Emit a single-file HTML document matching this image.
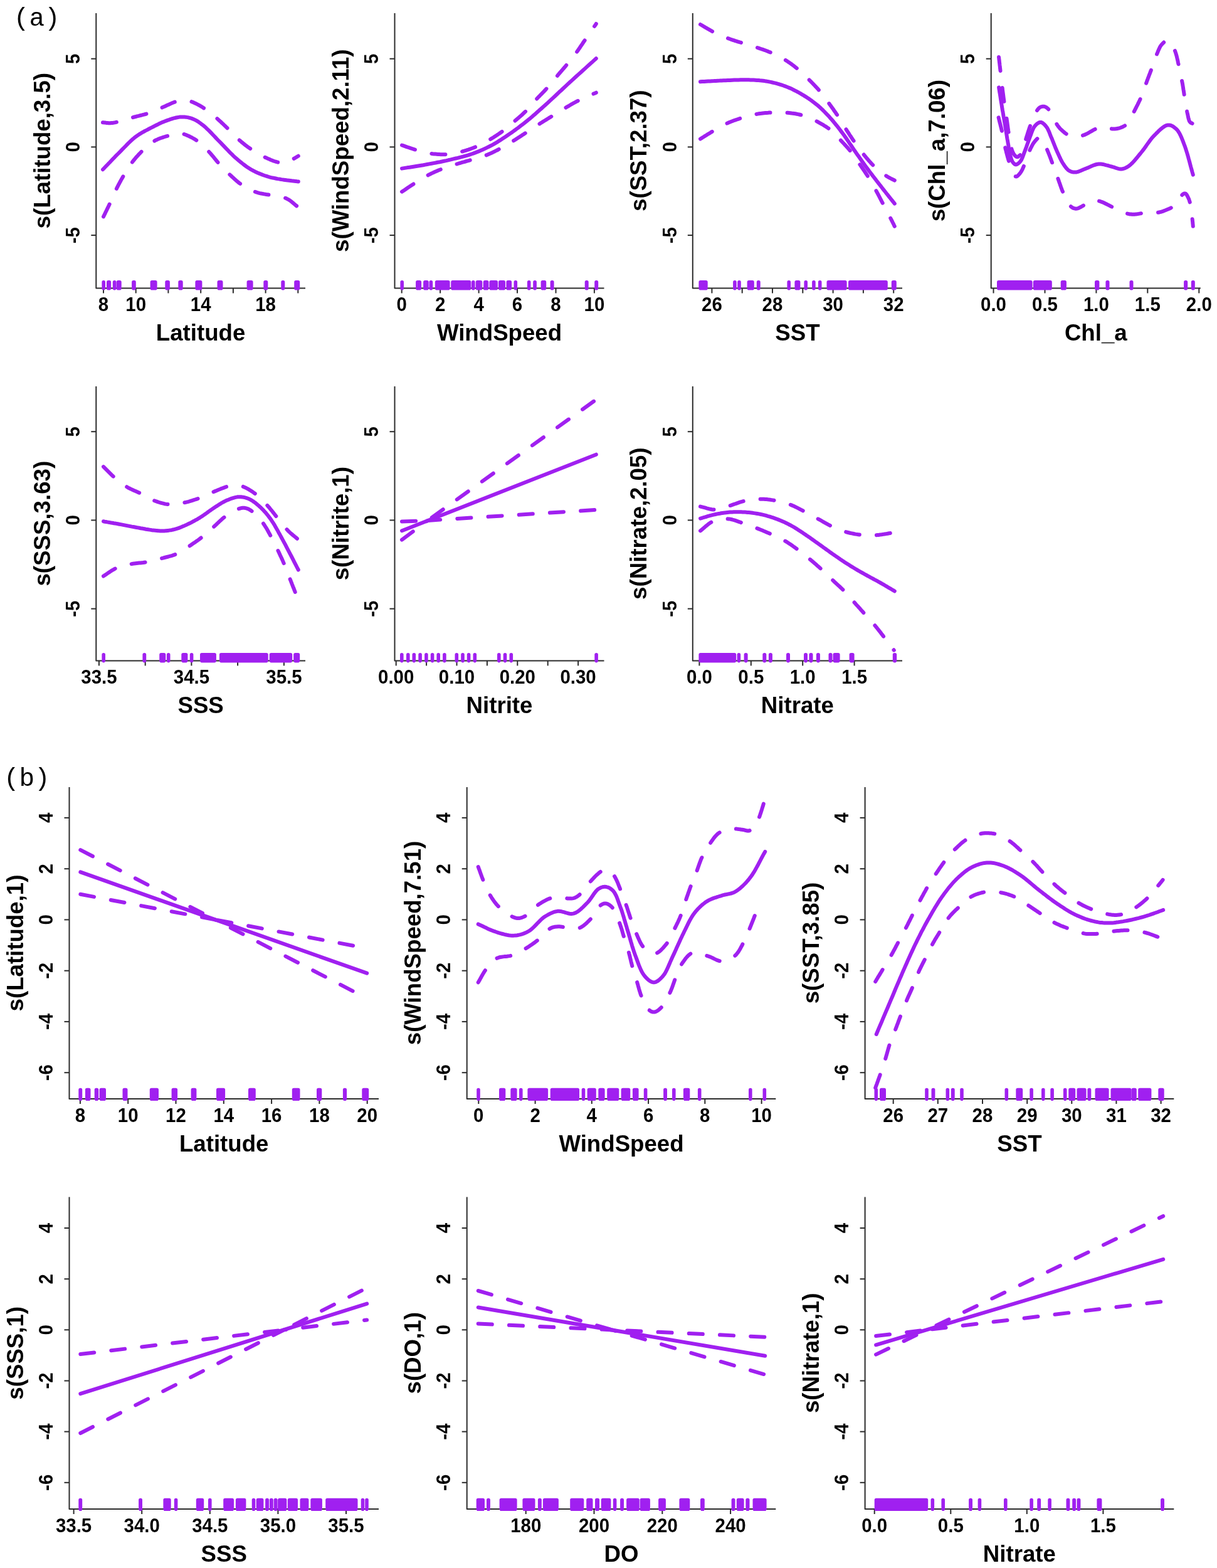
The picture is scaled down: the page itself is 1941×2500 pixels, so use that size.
<!DOCTYPE html>
<html><head><meta charset="utf-8"><title>GAM partial effects</title>
<style>
html,body{margin:0;padding:0;background:#fff;}
svg{display:block;}
.ax{fill:none;stroke:#2b2b2b;stroke-width:2.0;stroke-linecap:butt;stroke-linejoin:round;}
.tk{font-family:"Liberation Sans",sans-serif;font-weight:700;font-size:31.0px;text-anchor:middle;fill:#000;}
.lb{font-family:"Liberation Sans",sans-serif;font-weight:700;font-size:36.3px;text-anchor:middle;fill:#000;}
.pl{font-family:"Liberation Mono",monospace;font-weight:400;font-size:41px;fill:#000;}
.fit{fill:none;stroke:#A020F0;stroke-width:6.0;stroke-linecap:round;stroke-linejoin:round;}
.ci{fill:none;stroke:#A020F0;stroke-width:6.0;stroke-linecap:round;stroke-linejoin:round;stroke-dasharray:22.1 27.2;}
.rg{fill:#A020F0;}
</style></head>
<body>
<svg width="1941" height="2500" viewBox="0 0 1941 2500">
<rect width="1941" height="2500" fill="#fff"/>
<text class="pl" x="21.8" y="40.5">(a)</text>
<text class="pl" x="5.9" y="1252.5">(b)</text>
<path d="M153.3 21.0 V459.5 H487.0" class="ax"/>
<path d="M145.3 375.1H153.3" class="ax"/>
<path d="M145.3 234.4H153.3" class="ax"/>
<path d="M145.3 93.7H153.3" class="ax"/>
<text class="tk" transform="translate(127.0 375.1) rotate(-90) scale(0.950 1)">-5</text>
<text class="tk" transform="translate(127.0 234.4) rotate(-90) scale(0.950 1)">0</text>
<text class="tk" transform="translate(127.0 93.7) rotate(-90) scale(0.950 1)">5</text>
<path d="M165.0 459.5V467.5" class="ax"/>
<path d="M216.7 459.5V467.5" class="ax"/>
<path d="M268.4 459.5V467.5" class="ax"/>
<path d="M320.2 459.5V467.5" class="ax"/>
<path d="M371.9 459.5V467.5" class="ax"/>
<path d="M423.6 459.5V467.5" class="ax"/>
<path d="M475.3 459.5V467.5" class="ax"/>
<text class="tk" transform="translate(165.0 496.3) scale(0.950 1)">8</text>
<text class="tk" transform="translate(216.7 496.3) scale(0.950 1)">10</text>
<text class="tk" transform="translate(320.2 496.3) scale(0.950 1)">14</text>
<text class="tk" transform="translate(423.6 496.3) scale(0.950 1)">18</text>
<text class="lb" transform="translate(320.1 543.1) scale(1.010 1)">Latitude</text>
<text class="lb" transform="translate(79.7 240.2) rotate(-90) scale(1.010 1)">s(Latitude,3.5)</text>
<rect x="162.4" y="447.0" width="5.6" height="15.5" rx="2.8" class="rg"/>
<rect x="170.0" y="447.0" width="7.1" height="15.5" rx="2.8" class="rg"/>
<rect x="179.8" y="447.0" width="5.6" height="15.5" rx="2.8" class="rg"/>
<rect x="185.7" y="447.0" width="8.0" height="15.5" rx="2.8" class="rg"/>
<rect x="210.1" y="447.0" width="6.7" height="15.5" rx="2.8" class="rg"/>
<rect x="239.6" y="447.0" width="11.0" height="15.5" rx="2.8" class="rg"/>
<rect x="263.3" y="447.0" width="7.6" height="15.5" rx="2.8" class="rg"/>
<rect x="284.3" y="447.0" width="7.4" height="15.5" rx="2.8" class="rg"/>
<rect x="311.4" y="447.0" width="11.0" height="15.5" rx="2.8" class="rg"/>
<rect x="346.5" y="447.0" width="9.0" height="15.5" rx="2.8" class="rg"/>
<rect x="393.6" y="447.0" width="10.0" height="15.5" rx="2.8" class="rg"/>
<rect x="420.3" y="447.0" width="7.0" height="15.5" rx="2.8" class="rg"/>
<rect x="448.3" y="447.0" width="6.0" height="15.5" rx="2.8" class="rg"/>
<rect x="469.2" y="447.0" width="9.0" height="15.5" rx="2.8" class="rg"/>
<path d="M164.0 270.3L166.2 268.0L168.3 265.8L170.5 263.5L172.7 261.2L174.9 259.0L177.0 256.7L179.2 254.4L181.4 252.2L183.5 249.9L185.7 247.7L187.9 245.5L190.1 243.3L192.3 241.1L194.4 238.9L196.6 236.7L198.7 234.5L200.9 232.3L203.0 230.1L205.2 227.9L207.4 225.8L209.6 223.8L211.8 221.8L214.0 219.9L216.2 218.2L218.2 216.8L220.1 215.4L222.1 214.1L224.1 212.9L226.0 211.7L228.0 210.6L230.0 209.5L232.0 208.4L234.1 207.4L236.1 206.3L238.1 205.3L240.2 204.2L242.3 203.1L244.5 202.0L246.6 200.9L248.8 199.8L251.0 198.7L253.2 197.6L255.4 196.6L257.6 195.6L259.8 194.6L262.0 193.7L264.2 192.9L266.3 192.1L268.2 191.4L270.1 190.8L271.9 190.1L273.8 189.5L275.6 189.0L277.5 188.4L279.3 188.0L281.2 187.5L283.0 187.2L284.8 186.9L286.5 186.6L288.3 186.5L289.9 186.4L291.4 186.4L293.0 186.5L294.5 186.6L296.0 186.7L297.5 186.9L299.0 187.1L300.5 187.4L302.0 187.8L303.5 188.2L304.9 188.6L306.4 189.1L307.9 189.7L309.5 190.4L311.0 191.1L312.5 191.9L313.9 192.7L315.4 193.6L316.9 194.6L318.3 195.6L319.8 196.7L321.3 197.8L322.9 199.0L324.4 200.2L326.5 201.9L328.6 203.8L330.7 205.8L332.9 207.9L335.1 210.1L337.3 212.4L339.5 214.7L341.7 217.0L343.9 219.4L346.1 221.7L348.3 224.0L350.5 226.2L352.7 228.4L354.8 230.6L357.0 232.9L359.1 235.1L361.3 237.4L363.5 239.6L365.6 241.9L367.8 244.1L370.0 246.2L372.1 248.3L374.3 250.4L376.5 252.3L378.5 254.0L380.5 255.7L382.4 257.3L384.4 258.9L386.4 260.5L388.3 262.0L390.3 263.5L392.3 265.0L394.4 266.4L396.4 267.7L398.5 269.1L400.6 270.3L402.7 271.5L404.8 272.6L406.9 273.7L409.1 274.7L411.3 275.7L413.5 276.6L415.7 277.5L417.9 278.4L420.1 279.2L422.3 280.0L424.5 280.7L426.7 281.4L428.7 282.0L430.7 282.6L432.7 283.1L434.7 283.5L436.7 283.9L438.7 284.3L440.7 284.7L442.7 285.1L444.7 285.4L446.7 285.7L448.7 286.1L450.7 286.4L452.8 286.7L454.8 287.0L456.9 287.3L459.0 287.6L461.1 287.8L463.2 288.0L465.3 288.3L467.4 288.5L469.5 288.7L471.6 288.9L473.7 289.2L475.8 289.4" class="fit"/>
<path d="M164.0 195.2L165.0 195.3L166.0 195.4L167.0 195.5L168.0 195.6L169.0 195.8L170.0 195.9L171.0 196.0L172.0 196.1L173.0 196.2L174.0 196.2L175.1 196.2L176.1 196.2L177.2 196.1L178.3 196.0L179.5 195.9L180.6 195.8L181.7 195.6L182.9 195.4L184.0 195.2L185.2 194.9L186.4 194.7L187.6 194.4L188.8 194.1L190.1 193.8L191.8 193.4L193.5 192.9L195.2 192.4L197.0 191.9L198.8 191.3L200.7 190.7L202.6 190.1L204.4 189.5L206.3 188.9L208.3 188.3L210.2 187.7L212.1 187.1L214.2 186.5L216.4 186.0L218.5 185.4L220.7 184.9L223.0 184.3L225.2 183.8L227.4 183.2L229.7 182.6L231.9 182.0L234.0 181.4L236.1 180.8L238.2 180.1L240.1 179.4L241.9 178.7L243.7 178.0L245.4 177.3L247.1 176.5L248.9 175.8L250.6 175.0L252.3 174.2L254.0 173.4L255.8 172.6L257.5 171.9L259.3 171.1L261.2 170.3L263.2 169.4L265.1 168.5L267.1 167.6L269.2 166.7L271.2 165.8L273.1 164.9L275.1 164.0L277.0 163.3L278.8 162.6L280.6 162.0L282.3 161.5L283.4 161.2L284.5 161.0L285.5 160.8L286.5 160.6L287.5 160.4L288.5 160.3L289.5 160.2L290.4 160.1L291.4 160.1L292.3 160.1L293.3 160.1L294.3 160.1L295.3 160.1L296.3 160.2L297.3 160.3L298.2 160.4L299.2 160.6L300.2 160.8L301.2 161.0L302.2 161.2L303.2 161.5L304.2 161.8L305.3 162.1L306.4 162.5L308.0 163.1L309.8 163.9L311.6 164.7L313.4 165.6L315.3 166.6L317.2 167.6L319.1 168.7L321.1 169.8L323.0 171.0L324.8 172.2L326.6 173.3L328.4 174.5L330.1 175.7L331.8 176.9L333.4 178.1L335.0 179.4L336.6 180.7L338.2 182.0L339.8 183.3L341.3 184.7L342.9 186.0L344.4 187.4L346.0 188.7L347.5 190.1L349.0 191.5L350.6 192.9L352.1 194.3L353.6 195.7L355.1 197.1L356.6 198.5L358.1 200.0L359.6 201.4L361.1 202.9L362.6 204.3L364.0 205.8L365.5 207.2L366.9 208.6L368.4 210.0L369.8 211.5L371.2 212.9L372.5 214.4L373.9 215.8L375.3 217.3L376.7 218.7L378.2 220.1L379.6 221.5L381.1 222.9L382.6 224.2L384.2 225.5L385.8 226.9L387.4 228.2L389.0 229.5L390.7 230.8L392.3 232.1L394.0 233.3L395.7 234.6L397.4 235.8L399.2 237.0L400.9 238.2L402.6 239.3L404.3 240.4L406.0 241.5L407.7 242.6L409.5 243.7L411.2 244.7L412.9 245.7L414.7 246.7L416.5 247.7L418.3 248.6L420.1 249.6L421.9 250.4L423.7 251.3L425.6 252.1L427.5 253.0L429.5 253.8L431.4 254.7L433.4 255.5L435.4 256.3L437.4 257.0L439.4 257.6L441.3 258.2L443.2 258.7L445.0 259.0L446.7 259.3L447.9 259.4L449.1 259.5L450.3 259.5L451.5 259.5L452.6 259.5L453.7 259.4L454.8 259.2L455.9 259.0L456.9 258.8L458.0 258.6L459.0 258.3L460.0 258.0L460.9 257.7L461.8 257.3L462.7 256.8L463.5 256.4L464.4 255.9L465.2 255.3L466.0 254.8L466.8 254.3L467.6 253.7L468.3 253.2L469.1 252.7L469.8 252.3L470.4 252.0L470.9 251.7L471.4 251.3L471.9 251.0L472.4 250.7L472.9 250.5L473.4 250.2L473.9 249.9L474.3 249.6L474.8 249.3L475.3 249.0L475.8 248.7" class="ci"/>
<path d="M165.0 345.5L165.9 343.6L166.9 341.7L167.8 339.7L168.7 337.8L169.7 335.9L170.6 334.0L171.5 332.1L172.5 330.1L173.4 328.2L174.3 326.3L175.2 324.4L176.1 322.5L177.0 320.6L177.8 318.8L178.6 316.9L179.4 315.1L180.2 313.2L181.0 311.4L181.8 309.6L182.7 307.7L183.5 305.9L184.3 304.1L185.2 302.2L186.1 300.4L187.0 298.5L188.0 296.7L188.9 294.8L189.9 293.0L190.9 291.1L191.9 289.3L192.9 287.4L193.9 285.6L195.0 283.8L196.0 282.0L197.0 280.2L198.1 278.4L199.1 276.7L200.2 275.0L201.2 273.2L202.2 271.5L203.3 269.8L204.3 268.2L205.4 266.5L206.5 264.8L207.6 263.2L208.7 261.5L209.9 259.9L211.1 258.3L212.4 256.6L213.7 255.0L215.1 253.3L216.4 251.7L217.8 250.1L219.3 248.5L220.7 246.9L222.2 245.3L223.7 243.8L225.2 242.2L226.7 240.8L228.2 239.3L229.7 237.9L231.2 236.5L232.7 235.1L234.2 233.8L235.8 232.4L237.3 231.1L238.9 229.8L240.5 228.6L242.1 227.4L243.8 226.3L245.5 225.2L247.2 224.2L249.0 223.2L250.9 222.4L252.8 221.5L254.8 220.7L256.9 220.0L258.9 219.3L260.9 218.6L262.9 218.0L264.9 217.4L266.8 216.9L268.6 216.3L270.3 215.8L271.5 215.4L272.7 215.1L273.8 214.7L274.9 214.4L276.0 214.0L277.1 213.7L278.1 213.4L279.2 213.2L280.2 213.0L281.2 212.8L282.3 212.7L283.3 212.6L284.2 212.6L285.1 212.6L286.0 212.6L286.9 212.6L287.8 212.7L288.7 212.8L289.5 213.0L290.4 213.1L291.4 213.4L292.3 213.6L293.3 213.9L294.3 214.2L295.9 214.8L297.6 215.4L299.4 216.2L301.3 217.0L303.2 218.0L305.2 218.9L307.1 220.0L309.1 221.1L311.0 222.2L312.9 223.4L314.7 224.6L316.4 225.8L318.1 227.0L319.7 228.4L321.2 229.7L322.8 231.1L324.3 232.6L325.8 234.1L327.2 235.6L328.7 237.1L330.1 238.7L331.6 240.2L333.0 241.8L334.4 243.3L335.8 244.8L337.2 246.4L338.5 248.0L339.9 249.6L341.2 251.2L342.5 252.8L343.8 254.4L345.1 256.0L346.4 257.6L347.8 259.2L349.1 260.8L350.5 262.3L351.9 263.8L353.2 265.3L354.6 266.7L356.0 268.2L357.4 269.6L358.8 271.0L360.2 272.5L361.7 273.9L363.1 275.3L364.6 276.6L366.0 278.0L367.5 279.4L369.0 280.8L370.5 282.2L372.1 283.6L373.6 285.0L375.2 286.4L376.7 287.8L378.3 289.2L379.9 290.5L381.6 291.8L383.2 293.0L384.9 294.2L386.6 295.4L388.3 296.5L390.1 297.6L391.8 298.6L393.6 299.7L395.4 300.6L397.3 301.6L399.1 302.5L401.0 303.4L402.9 304.2L404.8 305.0L406.7 305.7L408.6 306.4L410.5 307.0L412.5 307.6L414.5 308.1L416.5 308.5L418.5 308.9L420.5 309.3L422.6 309.6L424.6 310.0L426.6 310.3L428.7 310.6L430.7 311.0L432.7 311.4L434.7 311.8L436.8 312.1L438.8 312.4L440.9 312.7L442.9 313.0L445.0 313.3L447.0 313.6L449.0 314.0L451.0 314.5L453.0 315.0L454.9 315.7L456.7 316.4L458.4 317.3L460.1 318.2L461.8 319.3L463.4 320.4L465.0 321.6L466.5 322.9L468.1 324.2L469.6 325.5L471.1 326.8L472.7 328.0L474.2 329.3L475.8 330.5" class="ci"/>
<path d="M629.5 21.0 V459.5 H963.5" class="ax"/>
<path d="M621.5 375.1H629.5" class="ax"/>
<path d="M621.5 234.4H629.5" class="ax"/>
<path d="M621.5 93.7H629.5" class="ax"/>
<text class="tk" transform="translate(603.2 375.1) rotate(-90) scale(0.950 1)">-5</text>
<text class="tk" transform="translate(603.2 234.4) rotate(-90) scale(0.950 1)">0</text>
<text class="tk" transform="translate(603.2 93.7) rotate(-90) scale(0.950 1)">5</text>
<path d="M640.7 459.5V467.5" class="ax"/>
<path d="M702.1 459.5V467.5" class="ax"/>
<path d="M763.6 459.5V467.5" class="ax"/>
<path d="M825.0 459.5V467.5" class="ax"/>
<path d="M886.5 459.5V467.5" class="ax"/>
<path d="M947.9 459.5V467.5" class="ax"/>
<text class="tk" transform="translate(640.7 496.3) scale(0.950 1)">0</text>
<text class="tk" transform="translate(702.1 496.3) scale(0.950 1)">2</text>
<text class="tk" transform="translate(763.6 496.3) scale(0.950 1)">4</text>
<text class="tk" transform="translate(825.0 496.3) scale(0.950 1)">6</text>
<text class="tk" transform="translate(886.5 496.3) scale(0.950 1)">8</text>
<text class="tk" transform="translate(947.9 496.3) scale(0.950 1)">10</text>
<text class="lb" transform="translate(796.5 543.1) scale(1.010 1)">WindSpeed</text>
<text class="lb" transform="translate(555.9 240.2) rotate(-90) scale(1.010 1)">s(WindSpeed,2.11)</text>
<rect x="638.4" y="447.0" width="5.6" height="15.5" rx="2.8" class="rg"/>
<rect x="663.1" y="447.0" width="9.0" height="15.5" rx="2.8" class="rg"/>
<rect x="675.1" y="447.0" width="8.6" height="15.5" rx="2.8" class="rg"/>
<rect x="684.5" y="447.0" width="5.7" height="15.5" rx="2.8" class="rg"/>
<rect x="693.8" y="447.0" width="23.8" height="15.5" rx="2.8" class="rg"/>
<rect x="719.2" y="447.0" width="32.1" height="15.5" rx="2.8" class="rg"/>
<rect x="752.0" y="447.0" width="5.6" height="15.5" rx="2.8" class="rg"/>
<rect x="758.7" y="447.0" width="10.6" height="15.5" rx="2.8" class="rg"/>
<rect x="770.7" y="447.0" width="8.7" height="15.5" rx="2.8" class="rg"/>
<rect x="780.4" y="447.0" width="13.6" height="15.5" rx="2.8" class="rg"/>
<rect x="795.0" y="447.0" width="11.0" height="15.5" rx="2.8" class="rg"/>
<rect x="807.4" y="447.0" width="8.7" height="15.5" rx="2.8" class="rg"/>
<rect x="819.5" y="447.0" width="5.6" height="15.5" rx="2.8" class="rg"/>
<rect x="840.9" y="447.0" width="5.6" height="15.5" rx="2.8" class="rg"/>
<rect x="850.2" y="447.0" width="5.7" height="15.5" rx="2.8" class="rg"/>
<rect x="862.6" y="447.0" width="8.6" height="15.5" rx="2.8" class="rg"/>
<rect x="877.6" y="447.0" width="6.0" height="15.5" rx="2.8" class="rg"/>
<rect x="932.7" y="447.0" width="6.0" height="15.5" rx="2.8" class="rg"/>
<rect x="948.2" y="447.0" width="6.0" height="15.5" rx="2.8" class="rg"/>
<path d="M641.0 268.6L644.1 268.1L647.2 267.6L650.2 267.1L653.3 266.7L656.4 266.2L659.5 265.7L662.5 265.2L665.6 264.7L668.7 264.2L671.8 263.7L675.0 263.2L678.1 262.6L681.4 262.0L684.7 261.4L688.1 260.8L691.5 260.1L694.9 259.5L698.3 258.8L701.7 258.2L705.0 257.5L708.4 256.8L711.7 256.1L715.0 255.3L718.2 254.6L721.2 253.9L724.1 253.2L727.0 252.5L729.9 251.9L732.8 251.1L735.6 250.4L738.5 249.7L741.3 248.9L744.1 248.1L746.8 247.3L749.6 246.4L752.3 245.5L754.9 244.6L757.5 243.6L760.1 242.6L762.7 241.6L765.2 240.6L767.7 239.5L770.2 238.4L772.7 237.3L775.2 236.1L777.6 234.9L780.0 233.7L782.4 232.5L784.7 231.3L786.9 230.1L789.1 228.8L791.2 227.6L793.4 226.3L795.5 224.9L797.6 223.6L799.8 222.2L801.9 220.8L804.0 219.4L806.2 218.0L808.4 216.5L810.9 214.8L813.3 213.1L815.8 211.4L818.4 209.6L820.9 207.8L823.4 205.9L826.0 204.1L828.5 202.2L831.0 200.2L833.5 198.3L836.0 196.4L838.5 194.4L841.0 192.4L843.5 190.3L846.0 188.3L848.5 186.2L850.9 184.1L853.4 181.9L855.8 179.8L858.3 177.6L860.8 175.3L863.4 173.1L866.0 170.8L868.6 168.4L871.8 165.6L875.0 162.6L878.2 159.6L881.5 156.6L884.9 153.5L888.3 150.3L891.6 147.1L895.1 144.0L898.5 140.8L901.9 137.6L905.3 134.4L908.7 131.3L912.2 128.1L915.6 125.0L919.1 121.8L922.6 118.6L926.2 115.4L929.7 112.3L933.2 109.1L936.7 105.9L940.2 102.7L943.8 99.6L947.3 96.4L950.8 93.2" class="fit"/>
<path d="M641.0 231.5L643.0 232.2L645.0 232.9L647.0 233.6L649.0 234.3L651.1 235.0L653.1 235.7L655.1 236.3L657.1 237.0L659.1 237.7L661.1 238.3L663.1 238.9L665.1 239.5L667.0 240.0L668.9 240.6L670.8 241.1L672.7 241.6L674.6 242.1L676.5 242.6L678.4 243.1L680.3 243.5L682.3 243.9L684.2 244.3L686.1 244.6L688.1 244.9L690.1 245.2L692.2 245.4L694.3 245.6L696.4 245.8L698.5 246.0L700.6 246.1L702.7 246.2L704.8 246.3L706.9 246.3L709.0 246.3L711.1 246.2L713.2 246.1L715.2 245.9L717.3 245.7L719.3 245.4L721.3 245.1L723.3 244.8L725.4 244.4L727.4 244.0L729.4 243.5L731.4 243.0L733.4 242.5L735.3 242.0L737.3 241.5L739.3 241.0L741.2 240.4L743.2 239.8L745.1 239.2L747.0 238.6L749.0 237.9L750.9 237.2L752.8 236.5L754.7 235.8L756.6 235.1L758.4 234.3L760.3 233.5L762.1 232.7L763.9 231.9L765.7 231.0L767.5 230.2L769.2 229.3L771.0 228.4L772.7 227.4L774.5 226.5L776.2 225.5L777.9 224.5L779.7 223.5L781.4 222.5L783.2 221.4L785.0 220.3L786.8 219.2L788.5 218.1L790.3 216.9L792.1 215.8L793.9 214.6L795.6 213.4L797.3 212.2L799.0 211.0L800.7 209.7L802.4 208.5L804.0 207.3L805.5 206.1L807.1 204.9L808.6 203.6L810.1 202.4L811.6 201.1L813.1 199.9L814.5 198.6L816.0 197.3L817.5 196.0L819.0 194.7L820.5 193.4L822.1 192.0L823.7 190.7L825.3 189.3L826.9 187.9L828.5 186.5L830.2 185.1L831.8 183.7L833.4 182.2L834.9 180.8L836.5 179.3L838.0 177.9L839.5 176.4L840.9 174.9L842.3 173.5L843.7 172.0L845.0 170.5L846.3 168.9L847.6 167.4L848.9 165.9L850.2 164.4L851.5 162.8L852.8 161.3L854.1 159.8L855.5 158.3L856.9 156.8L858.3 155.3L859.7 153.8L861.2 152.3L862.6 150.8L864.1 149.3L865.5 147.9L867.0 146.4L868.4 144.9L869.8 143.4L871.2 141.8L872.6 140.3L874.0 138.7L875.3 137.2L876.7 135.6L878.0 134.0L879.3 132.4L880.7 130.8L882.0 129.2L883.3 127.6L884.6 126.0L885.9 124.4L887.3 122.8L888.6 121.2L889.9 119.6L891.3 118.0L892.6 116.4L894.0 114.9L895.3 113.3L896.7 111.7L898.0 110.1L899.4 108.6L900.7 107.0L902.1 105.4L903.4 103.8L904.7 102.2L906.0 100.6L907.3 99.1L908.5 97.5L909.8 95.9L911.1 94.4L912.3 92.8L913.6 91.2L914.8 89.6L916.1 88.0L917.3 86.4L918.5 84.8L919.7 83.2L920.9 81.5L922.1 79.9L923.2 78.2L924.4 76.5L925.5 74.8L926.7 73.1L927.8 71.4L929.0 69.7L930.1 68.0L931.3 66.2L932.5 64.5L933.7 62.7L935.1 60.7L936.4 58.7L937.8 56.7L939.3 54.6L940.7 52.6L942.1 50.5L943.6 48.4L945.0 46.3L946.5 44.2L947.9 42.1L949.4 40.1L950.8 38.0" class="ci"/>
<path d="M641.0 305.7L642.8 304.5L644.5 303.4L646.3 302.2L648.0 301.0L649.8 299.8L651.6 298.6L653.3 297.4L655.1 296.3L656.8 295.1L658.6 294.0L660.4 292.8L662.1 291.7L663.8 290.6L665.4 289.6L667.1 288.5L668.7 287.5L670.3 286.5L672.0 285.4L673.6 284.4L675.3 283.4L677.0 282.4L678.6 281.5L680.4 280.5L682.1 279.6L683.9 278.6L685.8 277.7L687.7 276.8L689.6 275.9L691.5 275.0L693.5 274.1L695.4 273.2L697.4 272.4L699.3 271.6L701.3 270.8L703.3 270.0L705.2 269.2L707.1 268.5L709.0 267.8L710.9 267.1L712.8 266.5L714.7 265.8L716.6 265.2L718.5 264.6L720.5 264.0L722.4 263.4L724.3 262.8L726.3 262.2L728.2 261.6L730.2 261.0L732.2 260.4L734.2 259.8L736.2 259.2L738.2 258.6L740.2 258.1L742.3 257.5L744.3 256.9L746.3 256.3L748.3 255.8L750.3 255.2L752.3 254.6L754.2 254.0L756.2 253.5L758.1 252.9L760.1 252.4L762.0 251.8L763.9 251.3L765.9 250.7L767.8 250.1L769.7 249.5L771.6 248.9L773.5 248.2L775.4 247.5L777.3 246.7L779.3 245.9L781.2 245.1L783.2 244.2L785.1 243.3L787.0 242.3L789.0 241.4L790.9 240.4L792.8 239.5L794.7 238.5L796.5 237.5L798.4 236.5L800.2 235.5L802.0 234.5L803.8 233.5L805.6 232.5L807.3 231.5L809.1 230.5L810.8 229.4L812.5 228.4L814.3 227.3L816.0 226.2L817.8 225.2L819.5 224.1L821.3 223.0L823.0 221.9L824.8 220.8L826.5 219.6L828.3 218.5L830.1 217.4L831.8 216.2L833.5 215.1L835.3 213.9L837.0 212.8L838.8 211.6L840.5 210.5L842.2 209.4L843.9 208.3L845.5 207.2L847.2 206.1L848.9 205.0L850.5 203.9L852.2 202.8L853.9 201.7L855.5 200.6L857.2 199.6L858.9 198.5L860.6 197.4L862.3 196.3L864.1 195.2L865.8 194.1L867.6 193.0L869.3 192.0L871.1 190.9L872.8 189.8L874.6 188.7L876.3 187.6L878.1 186.6L879.8 185.5L881.6 184.4L883.4 183.3L885.1 182.2L886.9 181.1L888.6 180.0L890.3 178.9L892.1 177.8L893.9 176.7L895.6 175.7L897.4 174.6L899.1 173.5L900.9 172.4L902.7 171.4L904.5 170.4L906.3 169.3L908.1 168.3L909.9 167.2L911.7 166.2L913.5 165.2L915.3 164.2L917.2 163.2L919.0 162.2L920.9 161.2L922.8 160.3L924.7 159.3L926.8 158.3L928.9 157.3L931.0 156.3L933.2 155.3L935.4 154.4L937.6 153.4L939.8 152.5L942.0 151.5L944.2 150.6L946.4 149.6L948.6 148.7L950.8 147.7" class="ci"/>
<path d="M1104.8 21.0 V459.5 H1439.0" class="ax"/>
<path d="M1096.8 375.1H1104.8" class="ax"/>
<path d="M1096.8 234.4H1104.8" class="ax"/>
<path d="M1096.8 93.7H1104.8" class="ax"/>
<text class="tk" transform="translate(1078.5 375.1) rotate(-90) scale(0.950 1)">-5</text>
<text class="tk" transform="translate(1078.5 234.4) rotate(-90) scale(0.950 1)">0</text>
<text class="tk" transform="translate(1078.5 93.7) rotate(-90) scale(0.950 1)">5</text>
<path d="M1135.4 459.5V467.5" class="ax"/>
<path d="M1183.7 459.5V467.5" class="ax"/>
<path d="M1232.0 459.5V467.5" class="ax"/>
<path d="M1280.3 459.5V467.5" class="ax"/>
<path d="M1328.6 459.5V467.5" class="ax"/>
<path d="M1376.9 459.5V467.5" class="ax"/>
<path d="M1425.2 459.5V467.5" class="ax"/>
<text class="tk" transform="translate(1135.4 496.3) scale(0.950 1)">26</text>
<text class="tk" transform="translate(1232.0 496.3) scale(0.950 1)">28</text>
<text class="tk" transform="translate(1328.6 496.3) scale(0.950 1)">30</text>
<text class="tk" transform="translate(1425.2 496.3) scale(0.950 1)">32</text>
<text class="lb" transform="translate(1271.9 543.1) scale(1.010 1)">SST</text>
<text class="lb" transform="translate(1031.2 240.2) rotate(-90) scale(1.010 1)">s(SST,2.37)</text>
<rect x="1114.4" y="447.0" width="14.3" height="15.5" rx="2.8" class="rg"/>
<rect x="1169.1" y="447.0" width="5.6" height="15.5" rx="2.8" class="rg"/>
<rect x="1176.2" y="447.0" width="5.6" height="15.5" rx="2.8" class="rg"/>
<rect x="1191.6" y="447.0" width="11.2" height="15.5" rx="2.8" class="rg"/>
<rect x="1206.8" y="447.0" width="5.9" height="15.5" rx="2.8" class="rg"/>
<rect x="1255.4" y="447.0" width="5.6" height="15.5" rx="2.8" class="rg"/>
<rect x="1267.4" y="447.0" width="9.0" height="15.5" rx="2.8" class="rg"/>
<rect x="1282.4" y="447.0" width="5.6" height="15.5" rx="2.8" class="rg"/>
<rect x="1295.1" y="447.0" width="5.6" height="15.5" rx="2.8" class="rg"/>
<rect x="1304.9" y="447.0" width="5.6" height="15.5" rx="2.8" class="rg"/>
<rect x="1318.5" y="447.0" width="32.1" height="15.5" rx="2.8" class="rg"/>
<rect x="1353.0" y="447.0" width="62.8" height="15.5" rx="2.8" class="rg"/>
<rect x="1421.8" y="447.0" width="8.0" height="15.5" rx="2.8" class="rg"/>
<path d="M1117.0 130.3L1120.1 130.1L1123.2 130.0L1126.2 129.8L1129.3 129.6L1132.4 129.4L1135.5 129.2L1138.5 129.1L1141.6 128.9L1144.7 128.7L1147.8 128.6L1151.0 128.4L1154.1 128.3L1157.4 128.2L1160.8 128.0L1164.1 127.9L1167.6 127.7L1171.0 127.6L1174.4 127.5L1177.8 127.4L1181.2 127.3L1184.5 127.2L1187.8 127.2L1191.1 127.2L1194.2 127.3L1196.9 127.4L1199.5 127.5L1202.0 127.6L1204.6 127.7L1207.1 127.9L1209.6 128.0L1212.0 128.3L1214.5 128.5L1216.9 128.8L1219.4 129.1L1221.8 129.5L1224.3 129.9L1226.8 130.4L1229.4 130.9L1231.9 131.5L1234.5 132.1L1237.0 132.7L1239.6 133.4L1242.1 134.1L1244.6 134.9L1247.1 135.7L1249.6 136.5L1252.0 137.4L1254.4 138.3L1256.7 139.2L1258.9 140.1L1261.2 141.1L1263.4 142.1L1265.6 143.2L1267.7 144.3L1269.9 145.4L1272.0 146.5L1274.1 147.7L1276.2 148.8L1278.3 150.1L1280.4 151.3L1282.5 152.6L1284.6 153.9L1286.7 155.2L1288.7 156.6L1290.8 158.0L1292.8 159.4L1294.8 160.8L1296.8 162.3L1298.8 163.8L1300.7 165.3L1302.6 166.8L1304.5 168.4L1306.3 169.9L1308.1 171.5L1309.8 173.1L1311.5 174.7L1313.1 176.3L1314.8 178.0L1316.4 179.7L1318.0 181.4L1319.7 183.1L1321.3 184.8L1322.9 186.6L1324.5 188.4L1326.2 190.3L1327.9 192.3L1329.6 194.3L1331.3 196.4L1333.0 198.5L1334.7 200.5L1336.4 202.7L1338.0 204.8L1339.7 207.0L1341.3 209.1L1343.0 211.3L1344.6 213.5L1346.3 215.8L1348.0 218.2L1349.7 220.6L1351.3 223.0L1353.0 225.4L1354.6 227.9L1356.3 230.3L1358.0 232.8L1359.6 235.2L1361.3 237.7L1362.9 240.1L1364.6 242.5L1366.3 244.9L1367.9 247.2L1369.6 249.6L1371.3 252.0L1372.9 254.3L1374.6 256.7L1376.3 259.0L1378.0 261.4L1379.6 263.7L1381.3 266.0L1383.0 268.3L1384.7 270.6L1386.3 272.8L1388.0 275.0L1389.6 277.2L1391.3 279.4L1392.9 281.5L1394.6 283.7L1396.3 285.8L1397.9 288.0L1399.6 290.2L1401.3 292.3L1403.0 294.5L1404.7 296.7L1406.5 299.0L1408.3 301.3L1410.1 303.6L1412.0 306.0L1413.8 308.3L1415.7 310.6L1417.5 313.0L1419.4 315.3L1421.2 317.7L1423.1 320.0L1425.0 322.4L1426.8 324.7" class="fit"/>
<path d="M1117.0 39.0L1118.8 40.0L1120.5 41.0L1122.2 42.1L1124.0 43.1L1125.7 44.2L1127.5 45.2L1129.2 46.2L1131.0 47.2L1132.7 48.2L1134.5 49.2L1136.3 50.2L1138.1 51.1L1140.0 52.0L1141.8 52.9L1143.7 53.8L1145.6 54.7L1147.5 55.5L1149.5 56.4L1151.4 57.2L1153.3 58.0L1155.3 58.8L1157.2 59.6L1159.2 60.4L1161.1 61.1L1163.0 61.8L1164.9 62.5L1166.8 63.2L1168.7 63.8L1170.7 64.4L1172.6 65.1L1174.5 65.7L1176.4 66.3L1178.4 66.9L1180.3 67.5L1182.3 68.1L1184.2 68.7L1186.2 69.3L1188.2 69.9L1190.2 70.5L1192.2 71.2L1194.2 71.8L1196.2 72.4L1198.3 73.0L1200.3 73.6L1202.3 74.2L1204.3 74.8L1206.2 75.4L1208.2 76.1L1210.1 76.7L1211.9 77.4L1213.8 78.0L1215.7 78.6L1217.5 79.2L1219.3 79.9L1221.2 80.5L1223.0 81.2L1224.8 81.9L1226.6 82.7L1228.5 83.4L1230.3 84.2L1232.2 85.1L1234.2 86.0L1236.2 86.9L1238.1 87.8L1240.1 88.8L1242.1 89.8L1244.0 90.8L1245.9 91.9L1247.9 92.9L1249.7 94.0L1251.6 95.1L1253.4 96.2L1255.1 97.3L1256.7 98.4L1258.4 99.5L1260.0 100.6L1261.6 101.7L1263.1 102.9L1264.7 104.0L1266.2 105.2L1267.8 106.4L1269.3 107.7L1270.9 108.9L1272.4 110.2L1274.0 111.6L1275.7 113.0L1277.3 114.5L1278.9 116.0L1280.5 117.5L1282.1 119.0L1283.7 120.6L1285.3 122.1L1286.9 123.7L1288.5 125.2L1290.0 126.8L1291.5 128.3L1292.9 129.7L1294.3 131.1L1295.7 132.5L1297.0 133.9L1298.4 135.3L1299.7 136.7L1301.0 138.1L1302.3 139.5L1303.6 140.9L1304.9 142.3L1306.2 143.8L1307.5 145.3L1308.8 146.9L1310.1 148.5L1311.4 150.1L1312.6 151.8L1313.9 153.4L1315.1 155.1L1316.4 156.8L1317.6 158.5L1318.8 160.2L1320.1 161.9L1321.3 163.6L1322.5 165.3L1323.7 167.0L1324.9 168.6L1326.1 170.3L1327.3 171.9L1328.5 173.6L1329.7 175.3L1330.8 177.0L1332.0 178.6L1333.2 180.3L1334.3 182.0L1335.5 183.7L1336.6 185.4L1337.7 187.1L1338.8 188.9L1339.9 190.6L1341.0 192.3L1342.1 194.1L1343.1 195.9L1344.2 197.6L1345.2 199.4L1346.3 201.1L1347.4 202.9L1348.5 204.7L1349.6 206.4L1350.7 208.2L1351.9 209.9L1353.0 211.7L1354.2 213.5L1355.3 215.3L1356.5 217.1L1357.7 218.8L1358.9 220.6L1360.0 222.3L1361.2 224.1L1362.4 225.8L1363.6 227.5L1364.7 229.1L1365.9 230.8L1367.0 232.4L1368.2 234.0L1369.3 235.6L1370.5 237.2L1371.7 238.7L1372.9 240.3L1374.0 241.9L1375.2 243.4L1376.5 245.0L1377.7 246.5L1379.0 248.1L1380.2 249.6L1381.5 251.2L1382.8 252.7L1384.1 254.2L1385.4 255.8L1386.7 257.3L1388.1 258.8L1389.4 260.3L1390.8 261.7L1392.2 263.2L1393.7 264.6L1395.3 266.1L1396.9 267.5L1398.5 269.0L1400.2 270.4L1401.9 271.8L1403.7 273.3L1405.4 274.6L1407.1 275.9L1408.8 277.2L1410.5 278.4L1412.1 279.5L1413.7 280.6L1414.9 281.3L1416.0 282.0L1417.1 282.7L1418.2 283.3L1419.3 283.8L1420.4 284.4L1421.4 284.9L1422.5 285.4L1423.6 286.0L1424.6 286.5L1425.7 287.0L1426.8 287.6" class="ci"/>
<path d="M1117.0 221.5L1118.8 220.4L1120.5 219.3L1122.3 218.2L1124.0 217.1L1125.8 216.0L1127.5 214.9L1129.3 213.8L1131.0 212.8L1132.8 211.7L1134.5 210.6L1136.3 209.5L1138.1 208.5L1139.9 207.4L1141.7 206.4L1143.5 205.3L1145.3 204.3L1147.1 203.2L1149.0 202.2L1150.8 201.1L1152.6 200.1L1154.5 199.1L1156.3 198.2L1158.2 197.3L1160.1 196.4L1162.0 195.6L1163.9 194.8L1165.8 194.0L1167.7 193.3L1169.6 192.5L1171.5 191.8L1173.5 191.2L1175.4 190.5L1177.4 189.9L1179.3 189.2L1181.3 188.6L1183.2 188.0L1185.1 187.4L1187.0 186.8L1188.9 186.3L1190.8 185.7L1192.7 185.2L1194.6 184.6L1196.5 184.1L1198.4 183.7L1200.3 183.2L1202.3 182.8L1204.2 182.4L1206.2 182.0L1208.2 181.6L1210.3 181.3L1212.4 181.0L1214.5 180.8L1216.6 180.5L1218.7 180.3L1220.8 180.1L1222.9 179.9L1225.0 179.8L1227.1 179.6L1229.2 179.5L1231.3 179.4L1233.4 179.3L1235.5 179.2L1237.6 179.2L1239.7 179.2L1241.8 179.2L1243.9 179.2L1246.0 179.2L1248.1 179.3L1250.2 179.4L1252.3 179.5L1254.3 179.6L1256.4 179.8L1258.4 180.0L1260.5 180.2L1262.5 180.5L1264.5 180.7L1266.5 181.0L1268.6 181.3L1270.6 181.7L1272.6 182.1L1274.5 182.5L1276.5 183.0L1278.5 183.5L1280.4 184.0L1282.3 184.6L1284.2 185.2L1286.1 185.9L1287.9 186.6L1289.8 187.4L1291.6 188.2L1293.5 189.0L1295.3 189.8L1297.1 190.7L1298.9 191.6L1300.7 192.5L1302.5 193.4L1304.3 194.3L1306.1 195.3L1307.9 196.3L1309.7 197.3L1311.5 198.3L1313.3 199.4L1315.0 200.5L1316.8 201.6L1318.5 202.7L1320.2 203.9L1321.9 205.1L1323.5 206.4L1325.1 207.7L1326.7 209.1L1328.3 210.6L1329.8 212.1L1331.4 213.6L1332.9 215.1L1334.3 216.7L1335.8 218.3L1337.3 219.8L1338.7 221.4L1340.2 223.0L1341.6 224.5L1343.0 226.0L1344.4 227.5L1345.8 228.9L1347.1 230.4L1348.5 231.9L1349.8 233.4L1351.2 234.8L1352.5 236.3L1353.8 237.9L1355.1 239.4L1356.3 240.9L1357.6 242.5L1358.8 244.1L1360.1 245.7L1361.3 247.4L1362.4 249.0L1363.6 250.7L1364.7 252.4L1365.9 254.1L1367.0 255.8L1368.2 257.5L1369.3 259.2L1370.4 260.9L1371.6 262.6L1372.8 264.3L1374.0 266.1L1375.2 267.8L1376.4 269.5L1377.6 271.3L1378.8 273.0L1380.0 274.8L1381.1 276.5L1382.3 278.3L1383.5 280.1L1384.6 281.8L1385.7 283.6L1386.8 285.3L1387.8 287.1L1388.8 288.8L1389.9 290.6L1390.9 292.3L1391.9 294.1L1392.9 295.9L1393.8 297.6L1394.8 299.4L1395.8 301.2L1396.7 302.9L1397.7 304.7L1398.6 306.4L1399.6 308.2L1400.5 309.9L1401.4 311.7L1402.3 313.4L1403.2 315.1L1404.1 316.9L1405.0 318.6L1405.9 320.4L1406.8 322.1L1407.8 323.9L1408.7 325.7L1409.7 327.6L1410.7 329.6L1411.8 331.6L1412.9 333.6L1413.9 335.6L1415.0 337.6L1416.0 339.6L1417.1 341.6L1418.1 343.5L1419.0 345.4L1419.9 347.1L1420.8 348.8L1421.4 349.9L1421.9 351.0L1422.5 352.1L1423.0 353.1L1423.5 354.1L1423.9 355.0L1424.4 356.0L1424.9 356.9L1425.4 357.9L1425.8 358.8L1426.3 359.8L1426.8 360.8" class="ci"/>
<path d="M1580.7 21.0 V459.5 H1914.8" class="ax"/>
<path d="M1572.7 375.1H1580.7" class="ax"/>
<path d="M1572.7 234.4H1580.7" class="ax"/>
<path d="M1572.7 93.7H1580.7" class="ax"/>
<text class="tk" transform="translate(1554.4 375.1) rotate(-90) scale(0.950 1)">-5</text>
<text class="tk" transform="translate(1554.4 234.4) rotate(-90) scale(0.950 1)">0</text>
<text class="tk" transform="translate(1554.4 93.7) rotate(-90) scale(0.950 1)">5</text>
<path d="M1584.5 459.5V467.5" class="ax"/>
<path d="M1666.5 459.5V467.5" class="ax"/>
<path d="M1748.4 459.5V467.5" class="ax"/>
<path d="M1830.3 459.5V467.5" class="ax"/>
<path d="M1912.3 459.5V467.5" class="ax"/>
<text class="tk" transform="translate(1584.5 496.3) scale(0.950 1)">0.0</text>
<text class="tk" transform="translate(1666.5 496.3) scale(0.950 1)">0.5</text>
<text class="tk" transform="translate(1748.4 496.3) scale(0.950 1)">1.0</text>
<text class="tk" transform="translate(1830.3 496.3) scale(0.950 1)">1.5</text>
<text class="tk" transform="translate(1912.3 496.3) scale(0.950 1)">2.0</text>
<text class="lb" transform="translate(1747.8 543.1) scale(1.010 1)">Chl_a</text>
<text class="lb" transform="translate(1507.1 240.2) rotate(-90) scale(1.010 1)">s(Chl_a,7.06)</text>
<rect x="1590.0" y="447.0" width="56.6" height="15.5" rx="2.8" class="rg"/>
<rect x="1647.8" y="447.0" width="30.0" height="15.5" rx="2.8" class="rg"/>
<rect x="1691.7" y="447.0" width="9.2" height="15.5" rx="2.8" class="rg"/>
<rect x="1746.0" y="447.0" width="7.4" height="15.5" rx="2.8" class="rg"/>
<rect x="1763.4" y="447.0" width="6.1" height="15.5" rx="2.8" class="rg"/>
<rect x="1801.5" y="447.0" width="6.0" height="15.5" rx="2.8" class="rg"/>
<rect x="1888.1" y="447.0" width="6.1" height="15.5" rx="2.8" class="rg"/>
<rect x="1899.8" y="447.0" width="6.0" height="15.5" rx="2.8" class="rg"/>
<path d="M1593.1 139.4L1593.5 142.0L1593.9 144.6L1594.3 147.2L1594.8 149.9L1595.2 152.5L1595.6 155.1L1596.0 157.7L1596.4 160.3L1596.8 162.9L1597.3 165.5L1597.7 168.1L1598.1 170.7L1598.5 173.2L1598.9 175.8L1599.4 178.3L1599.8 180.8L1600.2 183.3L1600.6 185.8L1601.1 188.3L1601.5 190.9L1601.9 193.4L1602.4 195.9L1602.8 198.4L1603.2 200.9L1603.6 203.4L1604.0 206.0L1604.5 208.6L1604.9 211.2L1605.3 213.8L1605.7 216.4L1606.1 219.0L1606.5 221.5L1607.0 224.0L1607.4 226.4L1607.8 228.8L1608.2 231.1L1608.5 233.0L1608.8 234.8L1609.2 236.7L1609.5 238.5L1609.8 240.3L1610.1 242.0L1610.4 243.8L1610.7 245.4L1611.1 247.0L1611.4 248.5L1611.8 250.0L1612.2 251.3L1612.5 252.1L1612.8 253.0L1613.0 253.8L1613.3 254.5L1613.6 255.3L1613.9 256.0L1614.2 256.6L1614.5 257.3L1614.9 257.9L1615.2 258.5L1615.6 259.0L1616.0 259.5L1616.3 259.9L1616.6 260.2L1617.0 260.6L1617.3 260.9L1617.7 261.2L1618.0 261.5L1618.4 261.8L1618.7 262.0L1619.1 262.2L1619.5 262.3L1619.9 262.4L1620.3 262.4L1620.8 262.3L1621.4 262.2L1622.0 262.0L1622.6 261.6L1623.2 261.2L1623.9 260.8L1624.5 260.3L1625.1 259.8L1625.7 259.2L1626.3 258.6L1626.9 257.9L1627.4 257.3L1628.1 256.3L1628.8 255.3L1629.4 254.1L1630.0 252.8L1630.6 251.5L1631.1 250.1L1631.7 248.6L1632.2 247.2L1632.7 245.7L1633.3 244.2L1633.8 242.7L1634.4 241.2L1635.1 239.5L1635.7 237.7L1636.4 235.9L1637.1 234.0L1637.7 232.1L1638.4 230.2L1639.1 228.3L1639.8 226.4L1640.4 224.5L1641.1 222.6L1641.8 220.8L1642.5 219.0L1643.1 217.4L1643.7 215.7L1644.3 214.1L1644.9 212.4L1645.5 210.7L1646.2 209.1L1646.8 207.5L1647.5 206.0L1648.1 204.6L1648.9 203.2L1649.7 202.0L1650.5 200.9L1651.2 200.1L1651.9 199.4L1652.6 198.7L1653.3 198.0L1654.1 197.3L1654.9 196.7L1655.7 196.2L1656.5 195.7L1657.3 195.4L1658.1 195.1L1658.8 194.9L1659.6 194.9L1660.4 195.0L1661.2 195.2L1662.0 195.6L1662.7 196.0L1663.5 196.6L1664.3 197.2L1665.1 197.9L1665.9 198.7L1666.6 199.4L1667.3 200.3L1668.0 201.1L1668.7 201.9L1669.5 203.0L1670.3 204.2L1671.0 205.5L1671.7 206.8L1672.3 208.3L1673.0 209.7L1673.6 211.2L1674.2 212.8L1674.8 214.3L1675.4 215.9L1676.0 217.5L1676.7 219.0L1677.5 220.7L1678.2 222.5L1678.9 224.4L1679.7 226.2L1680.4 228.1L1681.2 230.0L1681.9 231.9L1682.7 233.8L1683.4 235.7L1684.2 237.5L1685.0 239.4L1685.8 241.2L1686.6 243.0L1687.4 244.7L1688.2 246.5L1689.0 248.3L1689.8 250.1L1690.7 251.9L1691.5 253.6L1692.4 255.3L1693.2 256.9L1694.1 258.5L1695.0 260.0L1695.9 261.4L1696.6 262.5L1697.3 263.5L1698.0 264.6L1698.8 265.6L1699.5 266.6L1700.2 267.5L1701.0 268.4L1701.7 269.2L1702.5 270.0L1703.3 270.8L1704.1 271.4L1705.0 272.0L1705.8 272.5L1706.6 272.9L1707.4 273.2L1708.2 273.6L1709.0 273.8L1709.9 274.1L1710.7 274.3L1711.6 274.4L1712.5 274.5L1713.4 274.6L1714.4 274.6L1715.3 274.6L1716.6 274.5L1717.9 274.2L1719.3 273.8L1720.6 273.4L1722.1 272.8L1723.5 272.2L1725.0 271.6L1726.4 271.0L1727.9 270.3L1729.4 269.7L1730.9 269.1L1732.4 268.5L1734.0 267.9L1735.6 267.2L1737.3 266.5L1738.9 265.8L1740.6 265.0L1742.3 264.3L1744.0 263.6L1745.6 263.0L1747.3 262.5L1749.0 262.0L1750.7 261.7L1752.4 261.5L1754.1 261.5L1755.8 261.5L1757.5 261.7L1759.2 262.0L1760.9 262.4L1762.6 262.8L1764.3 263.3L1766.0 263.7L1767.6 264.2L1769.3 264.7L1770.9 265.1L1772.5 265.5L1773.9 265.9L1775.3 266.3L1776.7 266.7L1778.1 267.2L1779.4 267.7L1780.8 268.1L1782.1 268.5L1783.4 268.9L1784.7 269.2L1786.0 269.4L1787.3 269.5L1788.5 269.5L1789.6 269.4L1790.6 269.2L1791.6 269.0L1792.6 268.7L1793.6 268.4L1794.6 268.0L1795.5 267.5L1796.5 267.0L1797.5 266.5L1798.5 265.9L1799.5 265.2L1800.5 264.5L1802.1 263.3L1803.7 261.9L1805.4 260.3L1807.1 258.6L1808.8 256.7L1810.5 254.8L1812.2 252.7L1813.9 250.7L1815.6 248.6L1817.3 246.5L1819.0 244.5L1820.6 242.5L1822.3 240.4L1824.0 238.2L1825.6 236.0L1827.2 233.7L1828.8 231.4L1830.4 229.1L1832.0 226.9L1833.7 224.6L1835.3 222.4L1837.0 220.3L1838.8 218.3L1840.6 216.4L1842.3 214.7L1844.1 212.8L1846.0 211.0L1847.8 209.1L1849.8 207.3L1851.7 205.6L1853.6 204.0L1855.5 202.6L1857.4 201.4L1859.2 200.4L1861.0 199.7L1862.7 199.4L1864.0 199.4L1865.2 199.5L1866.5 199.7L1867.7 200.1L1868.9 200.6L1870.1 201.2L1871.3 201.9L1872.4 202.7L1873.5 203.6L1874.6 204.5L1875.7 205.4L1876.7 206.4L1878.0 207.8L1879.1 209.3L1880.2 211.0L1881.3 212.8L1882.3 214.8L1883.2 216.8L1884.2 218.9L1885.1 221.1L1886.0 223.4L1886.9 225.7L1887.8 228.1L1888.7 230.5L1890.0 233.9L1891.2 237.5L1892.4 241.3L1893.6 245.2L1894.8 249.3L1895.9 253.5L1897.1 257.7L1898.2 261.9L1899.3 266.2L1900.5 270.4L1901.6 274.5L1902.8 278.6" class="fit"/>
<path d="M1593.0 91.0L1593.3 93.2L1593.5 95.4L1593.8 97.6L1594.0 99.7L1594.3 101.9L1594.5 104.1L1594.8 106.3L1595.0 108.5L1595.3 110.7L1595.5 112.8L1595.8 114.9L1596.0 117.0L1596.2 118.9L1596.4 120.7L1596.6 122.6L1596.8 124.4L1597.0 126.2L1597.2 128.0L1597.4 129.8L1597.6 131.6L1597.8 133.4L1598.1 135.2L1598.3 137.1L1598.5 139.0L1598.8 141.2L1599.0 143.4L1599.3 145.6L1599.6 147.9L1599.9 150.2L1600.2 152.5L1600.5 154.8L1600.8 157.1L1601.1 159.3L1601.4 161.6L1601.7 163.8L1602.0 166.0L1602.3 168.0L1602.6 169.9L1602.9 171.8L1603.1 173.8L1603.4 175.6L1603.7 177.5L1604.0 179.4L1604.3 181.3L1604.6 183.2L1604.9 185.1L1605.2 187.0L1605.5 189.0L1605.8 191.1L1606.1 193.3L1606.4 195.5L1606.7 197.7L1607.0 199.9L1607.3 202.1L1607.6 204.3L1607.9 206.5L1608.2 208.7L1608.6 210.8L1608.9 212.9L1609.2 215.0L1609.5 216.9L1609.8 218.7L1610.1 220.6L1610.3 222.5L1610.6 224.3L1610.9 226.1L1611.2 227.9L1611.5 229.7L1611.8 231.3L1612.2 233.0L1612.6 234.5L1613.0 236.0L1613.3 237.0L1613.6 238.1L1614.0 239.1L1614.3 240.0L1614.7 241.0L1615.0 241.9L1615.4 242.8L1615.8 243.6L1616.2 244.4L1616.6 245.2L1617.0 245.9L1617.5 246.5L1617.9 247.0L1618.2 247.4L1618.6 247.8L1619.0 248.3L1619.4 248.7L1619.8 249.0L1620.3 249.4L1620.7 249.7L1621.1 249.9L1621.5 250.1L1621.9 250.2L1622.3 250.3L1622.6 250.3L1622.9 250.2L1623.3 250.1L1623.6 249.9L1623.9 249.8L1624.2 249.5L1624.5 249.3L1624.8 249.0L1625.1 248.8L1625.4 248.5L1625.7 248.2L1626.0 248.0L1626.3 247.7L1626.6 247.5L1626.9 247.2L1627.2 247.0L1627.5 246.7L1627.7 246.5L1628.0 246.2L1628.3 245.8L1628.6 245.5L1628.8 245.1L1629.1 244.7L1629.4 244.2L1630.0 243.0L1630.6 241.5L1631.2 239.9L1631.7 238.0L1632.3 236.0L1632.9 233.9L1633.4 231.8L1634.0 229.6L1634.6 227.4L1635.2 225.2L1635.8 223.1L1636.4 221.1L1637.0 219.1L1637.7 217.1L1638.3 215.0L1638.9 213.0L1639.6 211.0L1640.2 208.9L1640.9 206.9L1641.6 204.8L1642.3 202.8L1643.0 200.8L1643.7 198.9L1644.5 196.9L1645.3 195.0L1646.1 193.0L1646.9 191.0L1647.7 188.9L1648.6 186.9L1649.4 184.9L1650.3 183.0L1651.2 181.1L1652.0 179.4L1652.9 177.8L1653.8 176.4L1654.6 175.2L1655.0 174.6L1655.5 174.1L1655.9 173.6L1656.3 173.1L1656.8 172.7L1657.2 172.3L1657.6 171.9L1658.1 171.5L1658.5 171.2L1659.0 171.0L1659.5 170.7L1660.0 170.5L1660.5 170.3L1661.0 170.1L1661.6 170.0L1662.1 169.9L1662.7 169.8L1663.3 169.8L1663.8 169.7L1664.4 169.7L1665.0 169.8L1665.6 169.9L1666.1 170.0L1666.7 170.2L1667.5 170.5L1668.2 170.9L1669.0 171.4L1669.7 171.9L1670.5 172.6L1671.3 173.2L1672.0 174.0L1672.8 174.7L1673.5 175.6L1674.3 176.4L1675.0 177.3L1675.7 178.2L1676.7 179.6L1677.6 181.2L1678.5 182.9L1679.4 184.8L1680.2 186.7L1681.1 188.7L1681.9 190.6L1682.8 192.6L1683.6 194.5L1684.5 196.3L1685.4 197.9L1686.3 199.4L1687.0 200.4L1687.7 201.3L1688.4 202.2L1689.1 203.1L1689.8 203.9L1690.5 204.7L1691.2 205.5L1692.0 206.2L1692.7 206.9L1693.5 207.6L1694.2 208.3L1695.0 209.0L1695.7 209.6L1696.5 210.3L1697.2 210.9L1697.9 211.5L1698.7 212.1L1699.4 212.6L1700.2 213.2L1701.0 213.7L1701.8 214.2L1702.6 214.6L1703.4 215.0L1704.3 215.4L1705.2 215.7L1706.1 216.1L1707.1 216.3L1708.0 216.6L1709.0 216.8L1710.0 217.0L1711.0 217.1L1712.0 217.3L1713.0 217.4L1714.0 217.4L1715.0 217.5L1716.0 217.5L1717.0 217.5L1718.0 217.5L1719.0 217.4L1720.0 217.3L1721.0 217.2L1722.0 217.0L1723.0 216.8L1724.0 216.6L1725.1 216.4L1726.2 216.1L1727.3 215.8L1728.4 215.4L1730.1 214.8L1731.8 214.0L1733.7 213.1L1735.6 212.1L1737.5 211.0L1739.4 209.9L1741.4 208.8L1743.3 207.7L1745.2 206.7L1747.0 205.8L1748.8 205.0L1750.4 204.4L1751.5 204.1L1752.5 203.8L1753.5 203.5L1754.5 203.2L1755.5 203.0L1756.4 202.9L1757.3 202.7L1758.3 202.6L1759.2 202.5L1760.1 202.5L1761.0 202.5L1762.0 202.5L1763.0 202.6L1763.9 202.8L1764.9 203.0L1765.8 203.3L1766.8 203.6L1767.7 203.9L1768.7 204.2L1769.6 204.6L1770.6 204.9L1771.5 205.1L1772.5 205.3L1773.5 205.4L1774.5 205.5L1775.6 205.5L1776.6 205.5L1777.7 205.4L1778.7 205.4L1779.8 205.3L1780.8 205.2L1781.9 205.0L1782.9 204.8L1784.0 204.6L1785.0 204.3L1786.0 204.0L1787.0 203.7L1788.0 203.3L1789.0 202.9L1790.0 202.5L1791.0 202.0L1792.0 201.5L1792.9 201.0L1793.9 200.4L1794.8 199.7L1795.7 199.0L1796.6 198.2L1797.5 197.4L1798.6 196.1L1799.8 194.7L1800.8 193.1L1801.8 191.5L1802.8 189.7L1803.8 187.8L1804.8 185.9L1805.7 183.9L1806.7 182.0L1807.6 180.1L1808.6 178.1L1809.5 176.3L1810.5 174.4L1811.5 172.5L1812.4 170.6L1813.4 168.7L1814.4 166.8L1815.3 164.9L1816.2 163.0L1817.2 161.0L1818.1 159.1L1818.9 157.2L1819.8 155.2L1820.6 153.3L1821.4 151.5L1822.1 149.6L1822.8 147.8L1823.4 146.0L1824.1 144.1L1824.7 142.3L1825.4 140.5L1826.0 138.6L1826.6 136.8L1827.3 134.9L1827.9 133.1L1828.6 131.2L1829.3 129.2L1830.1 127.2L1830.8 125.2L1831.6 123.2L1832.3 121.2L1833.1 119.2L1833.9 117.2L1834.6 115.2L1835.4 113.2L1836.1 111.2L1836.9 109.2L1837.6 107.2L1838.3 105.3L1839.0 103.4L1839.6 101.5L1840.3 99.5L1841.0 97.6L1841.6 95.7L1842.3 93.8L1842.9 92.0L1843.6 90.2L1844.3 88.4L1844.9 86.7L1845.6 85.1L1846.1 83.9L1846.6 82.6L1847.1 81.4L1847.6 80.2L1848.1 79.1L1848.6 78.0L1849.1 76.9L1849.6 75.8L1850.1 74.8L1850.7 73.8L1851.3 72.9L1852.0 72.0L1852.6 71.2L1853.3 70.5L1854.0 69.7L1854.7 68.9L1855.5 68.2L1856.2 67.5L1857.0 66.9L1857.8 66.4L1858.5 65.9L1859.3 65.5L1860.0 65.2L1860.7 65.1L1861.2 65.1L1861.8 65.1L1862.3 65.2L1862.9 65.3L1863.4 65.5L1863.9 65.8L1864.5 66.0L1865.0 66.4L1865.5 66.7L1866.0 67.1L1866.5 67.6L1867.0 68.0L1867.7 68.8L1868.5 69.7L1869.2 70.8L1869.9 71.9L1870.5 73.1L1871.2 74.5L1871.8 75.8L1872.4 77.2L1873.0 78.7L1873.6 80.2L1874.2 81.6L1874.7 83.1L1875.3 84.9L1875.9 86.9L1876.5 88.9L1877.0 91.0L1877.5 93.1L1878.0 95.2L1878.5 97.4L1878.9 99.6L1879.4 101.8L1879.8 104.0L1880.2 106.1L1880.7 108.2L1881.1 110.2L1881.6 112.2L1882.0 114.2L1882.5 116.2L1882.9 118.2L1883.3 120.2L1883.7 122.2L1884.1 124.2L1884.5 126.2L1884.9 128.2L1885.3 130.2L1885.7 132.2L1886.1 134.3L1886.4 136.4L1886.8 138.5L1887.1 140.6L1887.4 142.7L1887.8 144.8L1888.1 146.9L1888.4 149.0L1888.7 151.1L1889.0 153.2L1889.4 155.2L1889.7 157.3L1890.0 159.3L1890.3 161.3L1890.7 163.3L1891.0 165.3L1891.3 167.3L1891.6 169.2L1891.9 171.2L1892.3 173.1L1892.6 175.0L1893.0 176.8L1893.3 178.6L1893.7 180.3L1894.0 181.6L1894.3 183.0L1894.6 184.4L1894.8 185.7L1895.1 187.0L1895.4 188.3L1895.7 189.5L1896.1 190.7L1896.4 191.8L1896.8 192.8L1897.3 193.6L1897.8 194.4L1898.2 194.8L1898.5 195.2L1898.9 195.5L1899.3 195.7L1899.8 196.0L1900.2 196.2L1900.6 196.4L1901.1 196.6L1901.5 196.8L1901.9 197.0L1902.4 197.2L1902.8 197.4" class="ci"/>
<path d="M1592.6 187.3L1593.1 189.4L1593.6 191.4L1594.1 193.5L1594.6 195.6L1595.2 197.6L1595.7 199.7L1596.2 201.8L1596.7 203.8L1597.2 205.9L1597.7 207.9L1598.1 210.0L1598.6 212.0L1599.0 214.0L1599.4 215.9L1599.8 217.9L1600.2 219.8L1600.5 221.8L1600.9 223.7L1601.2 225.6L1601.6 227.6L1602.0 229.5L1602.4 231.4L1602.8 233.3L1603.2 235.2L1603.6 237.1L1604.1 238.9L1604.6 240.8L1605.0 242.7L1605.5 244.6L1606.0 246.4L1606.5 248.3L1607.0 250.1L1607.5 251.9L1608.0 253.6L1608.5 255.3L1609.0 257.0L1609.4 258.4L1609.8 259.7L1610.2 261.1L1610.6 262.4L1610.9 263.7L1611.3 264.9L1611.7 266.2L1612.1 267.4L1612.6 268.6L1613.0 269.8L1613.5 270.9L1614.0 272.0L1614.5 272.9L1614.9 274.0L1615.4 275.0L1615.9 276.0L1616.4 277.0L1616.9 278.0L1617.5 278.9L1618.0 279.7L1618.6 280.4L1619.1 280.9L1619.7 281.3L1620.3 281.5L1620.8 281.5L1621.4 281.4L1621.9 281.1L1622.5 280.8L1623.1 280.3L1623.6 279.8L1624.2 279.2L1624.8 278.6L1625.4 278.0L1625.9 277.3L1626.5 276.7L1627.0 276.0L1627.7 275.1L1628.4 274.1L1629.0 273.0L1629.6 271.9L1630.3 270.7L1630.9 269.4L1631.5 268.1L1632.1 266.8L1632.6 265.5L1633.2 264.1L1633.8 262.8L1634.4 261.4L1635.1 259.7L1635.8 257.9L1636.5 256.1L1637.1 254.1L1637.8 252.2L1638.4 250.2L1639.1 248.3L1639.7 246.3L1640.4 244.4L1641.1 242.6L1641.8 240.8L1642.5 239.2L1643.1 237.9L1643.7 236.7L1644.3 235.5L1644.9 234.3L1645.5 233.1L1646.1 232.0L1646.7 230.9L1647.3 229.8L1648.0 228.8L1648.6 227.8L1649.3 226.9L1650.0 226.0L1650.6 225.3L1651.2 224.5L1651.8 223.8L1652.5 223.1L1653.1 222.4L1653.8 221.7L1654.4 221.1L1655.1 220.5L1655.7 220.1L1656.4 219.8L1657.0 219.6L1657.6 219.5L1658.1 219.6L1658.6 219.7L1659.2 220.0L1659.7 220.4L1660.2 220.8L1660.7 221.3L1661.1 221.9L1661.6 222.5L1662.1 223.1L1662.6 223.7L1663.0 224.4L1663.5 225.0L1664.2 226.0L1664.8 227.0L1665.4 228.1L1666.0 229.3L1666.6 230.6L1667.2 231.9L1667.8 233.2L1668.4 234.6L1668.9 236.0L1669.5 237.4L1670.1 238.8L1670.7 240.2L1671.4 241.9L1672.1 243.6L1672.8 245.4L1673.6 247.3L1674.3 249.1L1675.0 251.0L1675.7 252.9L1676.4 254.8L1677.1 256.7L1677.8 258.6L1678.5 260.5L1679.2 262.4L1679.9 264.2L1680.6 266.1L1681.2 267.9L1681.9 269.8L1682.6 271.6L1683.2 273.4L1683.9 275.3L1684.6 277.1L1685.2 279.0L1685.9 280.9L1686.6 282.7L1687.3 284.6L1688.0 286.6L1688.7 288.6L1689.4 290.6L1690.2 292.6L1690.9 294.7L1691.6 296.7L1692.3 298.8L1693.1 300.8L1693.8 302.8L1694.6 304.8L1695.5 306.7L1696.3 308.6L1697.1 310.4L1698.0 312.3L1698.8 314.2L1699.7 316.1L1700.5 318.0L1701.4 319.9L1702.4 321.7L1703.3 323.3L1704.3 324.9L1705.2 326.4L1706.3 327.6L1707.3 328.7L1708.0 329.3L1708.7 329.9L1709.4 330.4L1710.1 330.9L1710.8 331.3L1711.6 331.7L1712.3 332.0L1713.1 332.2L1713.9 332.4L1714.7 332.6L1715.5 332.7L1716.3 332.7L1717.4 332.6L1718.6 332.3L1719.9 331.9L1721.2 331.4L1722.5 330.7L1723.8 330.0L1725.1 329.3L1726.4 328.5L1727.7 327.8L1729.0 327.0L1730.2 326.3L1731.4 325.7L1732.4 325.2L1733.3 324.7L1734.2 324.1L1735.0 323.5L1735.9 323.0L1736.8 322.4L1737.6 321.9L1738.5 321.4L1739.3 321.0L1740.2 320.6L1741.1 320.2L1742.0 320.0L1742.9 319.8L1743.8 319.7L1744.7 319.6L1745.6 319.6L1746.5 319.6L1747.4 319.6L1748.3 319.7L1749.3 319.9L1750.3 320.0L1751.3 320.2L1752.3 320.4L1753.4 320.7L1755.1 321.2L1757.0 321.9L1758.9 322.6L1760.9 323.5L1762.9 324.5L1765.0 325.5L1767.2 326.6L1769.3 327.7L1771.4 328.8L1773.5 329.8L1775.5 330.8L1777.5 331.7L1779.3 332.5L1781.2 333.4L1783.0 334.2L1784.9 335.1L1786.7 336.0L1788.5 336.8L1790.3 337.6L1792.1 338.4L1793.8 339.1L1795.4 339.7L1797.0 340.3L1798.5 340.7L1799.4 340.9L1800.3 341.1L1801.2 341.3L1802.0 341.4L1802.8 341.5L1803.5 341.6L1804.3 341.6L1805.1 341.7L1805.9 341.7L1806.7 341.7L1807.6 341.7L1808.5 341.7L1809.7 341.7L1810.9 341.6L1812.2 341.4L1813.5 341.3L1814.8 341.1L1816.1 340.9L1817.5 340.6L1818.9 340.4L1820.3 340.2L1821.7 340.0L1823.1 339.8L1824.6 339.7L1826.4 339.6L1828.3 339.5L1830.3 339.4L1832.3 339.4L1834.4 339.4L1836.4 339.4L1838.5 339.3L1840.5 339.3L1842.4 339.2L1844.3 339.1L1846.0 338.9L1847.6 338.7L1848.6 338.5L1849.5 338.3L1850.4 338.1L1851.2 337.9L1852.1 337.7L1852.8 337.5L1853.6 337.2L1854.4 337.0L1855.2 336.7L1856.0 336.4L1856.8 336.0L1857.7 335.7L1858.8 335.3L1860.0 334.8L1861.2 334.3L1862.4 333.8L1863.6 333.3L1864.8 332.8L1866.0 332.2L1867.3 331.6L1868.4 330.9L1869.6 330.2L1870.7 329.5L1871.7 328.7L1872.7 327.8L1873.7 326.9L1874.7 325.8L1875.6 324.7L1876.5 323.6L1877.4 322.4L1878.2 321.3L1879.0 320.1L1879.8 319.0L1880.6 317.9L1881.3 316.9L1882.0 316.0L1882.5 315.4L1882.9 314.7L1883.3 314.1L1883.7 313.5L1884.1 312.9L1884.4 312.3L1884.8 311.8L1885.1 311.2L1885.5 310.7L1885.9 310.3L1886.3 309.9L1886.7 309.6L1887.0 309.4L1887.3 309.2L1887.7 309.0L1888.0 308.9L1888.4 308.7L1888.7 308.6L1889.1 308.5L1889.4 308.5L1889.7 308.4L1890.1 308.5L1890.4 308.5L1890.7 308.6L1891.1 308.8L1891.5 309.1L1891.9 309.5L1892.3 310.0L1892.6 310.5L1893.0 311.1L1893.4 311.7L1893.7 312.3L1894.0 313.0L1894.4 313.7L1894.7 314.3L1895.0 315.0L1895.4 315.8L1895.8 316.7L1896.1 317.5L1896.5 318.4L1896.8 319.4L1897.1 320.3L1897.4 321.3L1897.7 322.3L1898.0 323.4L1898.3 324.4L1898.5 325.6L1898.8 326.7L1899.2 328.4L1899.5 330.3L1899.8 332.3L1900.1 334.4L1900.3 336.6L1900.6 338.8L1900.8 341.0L1901.0 343.1L1901.2 345.2L1901.4 347.2L1901.6 349.0L1901.8 350.7L1901.9 351.7L1902.0 352.6L1902.1 353.5L1902.2 354.4L1902.3 355.2L1902.3 356.0L1902.4 356.8L1902.5 357.6L1902.6 358.4L1902.6 359.2L1902.7 360.0L1902.8 360.8" class="ci"/>
<path d="M153.3 616.0 V1053.4 H487.0" class="ax"/>
<path d="M145.3 970.6H153.3" class="ax"/>
<path d="M145.3 829.4H153.3" class="ax"/>
<path d="M145.3 688.2H153.3" class="ax"/>
<text class="tk" transform="translate(127.0 970.6) rotate(-90) scale(0.950 1)">-5</text>
<text class="tk" transform="translate(127.0 829.4) rotate(-90) scale(0.950 1)">0</text>
<text class="tk" transform="translate(127.0 688.2) rotate(-90) scale(0.950 1)">5</text>
<path d="M157.9 1053.4V1061.4" class="ax"/>
<path d="M231.7 1053.4V1061.4" class="ax"/>
<path d="M305.4 1053.4V1061.4" class="ax"/>
<path d="M379.1 1053.4V1061.4" class="ax"/>
<path d="M452.9 1053.4V1061.4" class="ax"/>
<text class="tk" transform="translate(157.9 1090.2) scale(0.950 1)">33.5</text>
<text class="tk" transform="translate(305.4 1090.2) scale(0.950 1)">34.5</text>
<text class="tk" transform="translate(452.9 1090.2) scale(0.950 1)">35.5</text>
<text class="lb" transform="translate(320.1 1137.0) scale(1.010 1)">SSS</text>
<text class="lb" transform="translate(79.7 834.7) rotate(-90) scale(1.010 1)">s(SSS,3.63)</text>
<rect x="162.4" y="1040.9" width="5.6" height="15.5" rx="2.8" class="rg"/>
<rect x="227.4" y="1040.9" width="5.8" height="15.5" rx="2.8" class="rg"/>
<rect x="254.2" y="1040.9" width="10.1" height="15.5" rx="2.8" class="rg"/>
<rect x="265.9" y="1040.9" width="5.6" height="15.5" rx="2.8" class="rg"/>
<rect x="289.3" y="1040.9" width="10.1" height="15.5" rx="2.8" class="rg"/>
<rect x="302.8" y="1040.9" width="5.6" height="15.5" rx="2.8" class="rg"/>
<rect x="319.0" y="1040.9" width="25.9" height="15.5" rx="2.8" class="rg"/>
<rect x="349.9" y="1040.9" width="77.8" height="15.5" rx="2.8" class="rg"/>
<rect x="429.7" y="1040.9" width="36.5" height="15.5" rx="2.8" class="rg"/>
<rect x="468.2" y="1040.9" width="10.0" height="15.5" rx="2.8" class="rg"/>
<path d="M165.0 831.3L167.1 831.7L169.2 832.0L171.2 832.4L173.3 832.7L175.3 833.1L177.4 833.5L179.5 833.8L181.6 834.2L183.7 834.5L185.8 834.9L187.9 835.3L190.1 835.7L192.5 836.1L195.0 836.6L197.5 837.1L200.1 837.6L202.6 838.1L205.2 838.6L207.8 839.1L210.3 839.6L212.8 840.0L215.3 840.5L217.8 841.0L220.2 841.4L222.3 841.8L224.4 842.2L226.5 842.5L228.5 842.9L230.6 843.3L232.6 843.7L234.6 844.0L236.5 844.3L238.5 844.6L240.4 844.9L242.3 845.2L244.2 845.4L245.8 845.6L247.4 845.7L248.9 845.9L250.4 846.0L251.9 846.2L253.4 846.3L254.9 846.4L256.4 846.4L257.8 846.5L259.3 846.5L260.8 846.5L262.3 846.4L263.8 846.3L265.3 846.2L266.8 846.0L268.3 845.9L269.8 845.6L271.3 845.4L272.8 845.2L274.3 844.9L275.8 844.5L277.3 844.2L278.8 843.8L280.3 843.4L282.0 842.9L283.6 842.4L285.3 841.8L287.0 841.2L288.7 840.5L290.4 839.8L292.0 839.1L293.7 838.4L295.4 837.6L297.1 836.9L298.7 836.1L300.4 835.3L302.1 834.5L303.8 833.7L305.5 832.8L307.1 831.9L308.8 831.0L310.5 830.1L312.1 829.2L313.8 828.3L315.5 827.3L317.1 826.3L318.8 825.3L320.4 824.3L322.1 823.2L323.8 822.1L325.5 820.9L327.1 819.8L328.8 818.6L330.5 817.4L332.1 816.1L333.8 814.9L335.5 813.7L337.1 812.6L338.8 811.4L340.5 810.3L342.1 809.2L343.8 808.1L345.4 807.1L347.1 806.0L348.7 804.9L350.4 803.8L352.1 802.8L353.7 801.8L355.4 800.9L357.1 800.0L358.8 799.1L360.5 798.3L362.1 797.6L363.8 796.9L365.5 796.2L367.2 795.5L368.9 794.9L370.6 794.3L372.3 793.8L374.0 793.3L375.7 792.9L377.4 792.6L379.0 792.3L380.6 792.2L382.0 792.2L383.4 792.2L384.7 792.3L386.1 792.4L387.4 792.6L388.8 792.8L390.1 793.1L391.4 793.5L392.7 793.9L394.0 794.3L395.3 794.8L396.6 795.3L398.0 795.9L399.4 796.6L400.7 797.4L402.1 798.2L403.4 799.0L404.7 800.0L406.1 800.9L407.4 801.9L408.7 803.0L410.0 804.1L411.3 805.2L412.6 806.3L414.1 807.7L415.7 809.1L417.2 810.6L418.7 812.1L420.3 813.7L421.8 815.4L423.3 817.1L424.8 818.8L426.3 820.6L427.8 822.5L429.2 824.4L430.7 826.3L432.4 828.7L434.1 831.3L435.8 833.9L437.5 836.6L439.1 839.4L440.7 842.3L442.4 845.2L444.0 848.2L445.7 851.2L447.3 854.2L449.0 857.3L450.7 860.4L452.7 864.1L454.8 867.9L456.8 871.8L458.9 875.8L461.0 879.8L463.1 883.9L465.3 888.0L467.4 892.1L469.5 896.3L471.6 900.4L473.7 904.5L475.8 908.5" class="fit"/>
<path d="M165.0 744.1L166.5 745.6L168.0 747.1L169.5 748.6L171.0 750.1L172.5 751.6L174.0 753.1L175.5 754.6L177.0 756.1L178.5 757.6L180.0 759.0L181.5 760.4L183.1 761.8L184.6 763.1L186.1 764.4L187.7 765.7L189.2 766.9L190.8 768.2L192.3 769.4L193.9 770.6L195.5 771.8L197.1 772.9L198.7 774.0L200.4 775.1L202.1 776.2L203.9 777.3L205.8 778.3L207.7 779.2L209.6 780.1L211.5 781.0L213.5 781.9L215.5 782.8L217.5 783.6L219.4 784.5L221.4 785.4L223.3 786.3L225.2 787.2L227.0 788.1L228.7 789.1L230.5 790.1L232.2 791.1L233.9 792.1L235.6 793.0L237.3 794.0L239.1 795.0L240.8 795.9L242.6 796.7L244.4 797.6L246.2 798.3L248.1 799.0L250.1 799.7L252.0 800.4L254.0 801.0L256.0 801.6L258.1 802.2L260.1 802.7L262.2 803.2L264.2 803.6L266.2 803.9L268.3 804.1L270.3 804.3L272.3 804.4L274.3 804.4L276.3 804.3L278.3 804.1L280.3 803.9L282.3 803.6L284.3 803.3L286.3 802.9L288.3 802.6L290.3 802.2L292.3 801.7L294.3 801.3L296.4 800.8L298.5 800.3L300.6 799.8L302.8 799.2L304.9 798.5L307.0 797.9L309.1 797.2L311.2 796.5L313.3 795.8L315.4 795.1L317.4 794.3L319.4 793.6L321.2 792.9L323.0 792.1L324.8 791.4L326.5 790.6L328.3 789.8L330.0 789.0L331.7 788.2L333.4 787.3L335.2 786.5L336.9 785.7L338.7 785.0L340.5 784.2L342.5 783.4L344.5 782.6L346.6 781.7L348.7 780.8L350.8 780.0L352.9 779.1L355.0 778.3L357.0 777.6L359.0 776.8L360.9 776.2L362.8 775.7L364.5 775.2L365.6 774.9L366.7 774.7L367.8 774.5L368.8 774.3L369.8 774.2L370.7 774.0L371.7 773.9L372.6 773.8L373.6 773.8L374.5 773.8L375.5 773.8L376.5 773.8L377.5 773.8L378.5 773.9L379.5 774.0L380.5 774.1L381.4 774.2L382.4 774.4L383.4 774.6L384.4 774.8L385.4 775.1L386.5 775.4L387.5 775.8L388.6 776.2L390.2 776.9L391.9 777.7L393.6 778.6L395.4 779.5L397.2 780.6L399.0 781.7L400.9 782.9L402.7 784.1L404.5 785.4L406.3 786.7L408.0 787.9L409.6 789.2L411.2 790.5L412.7 791.8L414.2 793.1L415.6 794.5L417.1 795.9L418.5 797.4L419.9 798.8L421.2 800.3L422.6 801.8L424.0 803.3L425.3 804.8L426.7 806.3L428.1 807.9L429.5 809.4L430.8 811.1L432.1 812.7L433.5 814.3L434.8 816.0L436.1 817.6L437.4 819.3L438.7 821.0L440.0 822.6L441.4 824.3L442.7 825.9L444.0 827.5L445.3 829.2L446.7 830.9L448.0 832.5L449.3 834.2L450.6 835.9L451.9 837.5L453.2 839.2L454.6 840.8L455.9 842.4L457.3 843.9L458.7 845.4L460.1 846.8L461.4 848.1L462.8 849.4L464.3 850.7L465.7 851.9L467.1 853.1L468.6 854.3L470.0 855.5L471.5 856.7L472.9 857.9L474.4 859.2L475.8 860.4" class="ci"/>
<path d="M165.0 918.5L166.7 917.4L168.5 916.3L170.2 915.1L171.9 913.9L173.6 912.7L175.4 911.6L177.1 910.4L178.9 909.3L180.6 908.3L182.4 907.3L184.2 906.4L186.1 905.5L188.0 904.7L189.9 904.0L191.9 903.4L193.9 902.8L195.9 902.2L197.9 901.7L199.9 901.2L202.0 900.7L204.0 900.3L206.0 899.9L208.1 899.5L210.1 899.1L212.1 898.7L214.1 898.4L216.1 898.2L218.1 898.0L220.1 897.8L222.1 897.6L224.2 897.4L226.2 897.2L228.2 897.0L230.2 896.7L232.2 896.4L234.2 896.1L236.2 895.7L238.2 895.3L240.2 894.8L242.3 894.4L244.3 893.9L246.3 893.4L248.3 892.8L250.3 892.3L252.3 891.8L254.3 891.2L256.3 890.7L258.3 890.1L260.3 889.6L262.4 889.0L264.4 888.5L266.4 888.0L268.5 887.5L270.5 886.9L272.5 886.4L274.6 885.8L276.5 885.1L278.5 884.4L280.4 883.7L282.3 882.9L284.1 882.1L285.8 881.2L287.5 880.2L289.2 879.2L290.9 878.2L292.5 877.1L294.2 876.0L295.8 874.9L297.4 873.8L299.1 872.7L300.7 871.5L302.4 870.4L304.2 869.2L305.9 868.0L307.7 866.8L309.5 865.6L311.3 864.4L313.0 863.1L314.8 861.9L316.6 860.6L318.3 859.3L320.0 858.0L321.7 856.7L323.4 855.4L325.0 854.1L326.5 852.8L328.1 851.5L329.6 850.2L331.1 848.8L332.6 847.5L334.1 846.1L335.6 844.8L337.0 843.4L338.5 842.1L340.0 840.7L341.5 839.4L343.0 838.0L344.5 836.7L345.9 835.3L347.4 833.9L348.9 832.5L350.3 831.1L351.8 829.7L353.3 828.4L354.8 827.0L356.3 825.7L357.9 824.5L359.5 823.3L361.2 822.1L362.9 820.9L364.7 819.7L366.6 818.6L368.4 817.4L370.3 816.3L372.1 815.2L374.0 814.3L375.7 813.4L377.4 812.6L379.1 811.9L380.6 811.3L381.5 811.0L382.4 810.7L383.3 810.5L384.1 810.2L384.9 810.1L385.7 809.9L386.5 809.8L387.3 809.7L388.1 809.7L388.9 809.7L389.7 809.8L390.6 809.9L391.6 810.1L392.7 810.4L393.8 810.7L394.9 811.1L396.0 811.6L397.1 812.1L398.2 812.7L399.3 813.4L400.4 814.0L401.4 814.8L402.5 815.5L403.6 816.3L405.0 817.4L406.4 818.6L407.8 819.9L409.2 821.4L410.5 822.9L411.9 824.4L413.3 826.0L414.6 827.6L415.9 829.3L417.2 831.0L418.5 832.6L419.7 834.3L420.9 836.0L422.1 837.8L423.2 839.6L424.4 841.4L425.5 843.2L426.5 845.1L427.6 847.0L428.6 848.9L429.7 850.8L430.7 852.7L431.7 854.5L432.7 856.4L433.7 858.2L434.6 860.1L435.6 861.9L436.5 863.7L437.5 865.6L438.4 867.4L439.3 869.3L440.2 871.1L441.1 873.0L441.9 874.8L442.8 876.7L443.7 878.5L444.6 880.3L445.4 882.1L446.3 884.0L447.1 885.8L448.0 887.6L448.8 889.4L449.7 891.3L450.5 893.1L451.3 894.9L452.1 896.8L452.9 898.6L453.7 900.5L454.5 902.4L455.3 904.3L456.0 906.2L456.8 908.1L457.5 910.1L458.3 912.0L459.0 913.9L459.7 915.9L460.5 917.8L461.2 919.7L461.9 921.7L462.7 923.6L463.5 925.5L464.2 927.4L465.0 929.4L465.7 931.3L466.5 933.2L467.2 935.1L468.0 937.0L468.8 938.9L469.5 940.9L470.3 942.8L471.0 944.7L471.8 946.6" class="ci"/>
<path d="M629.5 616.0 V1053.4 H963.5" class="ax"/>
<path d="M621.5 970.6H629.5" class="ax"/>
<path d="M621.5 829.4H629.5" class="ax"/>
<path d="M621.5 688.2H629.5" class="ax"/>
<text class="tk" transform="translate(603.2 970.6) rotate(-90) scale(0.950 1)">-5</text>
<text class="tk" transform="translate(603.2 829.4) rotate(-90) scale(0.950 1)">0</text>
<text class="tk" transform="translate(603.2 688.2) rotate(-90) scale(0.950 1)">5</text>
<path d="M631.7 1053.4V1061.4" class="ax"/>
<path d="M680.1 1053.4V1061.4" class="ax"/>
<path d="M728.5 1053.4V1061.4" class="ax"/>
<path d="M776.9 1053.4V1061.4" class="ax"/>
<path d="M825.3 1053.4V1061.4" class="ax"/>
<path d="M873.7 1053.4V1061.4" class="ax"/>
<path d="M922.1 1053.4V1061.4" class="ax"/>
<text class="tk" transform="translate(631.7 1090.2) scale(0.950 1)">0.00</text>
<text class="tk" transform="translate(728.5 1090.2) scale(0.950 1)">0.10</text>
<text class="tk" transform="translate(825.3 1090.2) scale(0.950 1)">0.20</text>
<text class="tk" transform="translate(922.1 1090.2) scale(0.950 1)">0.30</text>
<text class="lb" transform="translate(796.5 1137.0) scale(1.010 1)">Nitrite</text>
<text class="lb" transform="translate(555.9 834.7) rotate(-90) scale(1.010 1)">s(Nitrite,1)</text>
<rect x="638.0" y="1040.9" width="5.6" height="15.5" rx="2.8" class="rg"/>
<rect x="648.0" y="1040.9" width="5.6" height="15.5" rx="2.8" class="rg"/>
<rect x="657.5" y="1040.9" width="5.6" height="15.5" rx="2.8" class="rg"/>
<rect x="667.3" y="1040.9" width="5.6" height="15.5" rx="2.8" class="rg"/>
<rect x="677.1" y="1040.9" width="5.6" height="15.5" rx="2.8" class="rg"/>
<rect x="686.8" y="1040.9" width="5.6" height="15.5" rx="2.8" class="rg"/>
<rect x="696.4" y="1040.9" width="5.6" height="15.5" rx="2.8" class="rg"/>
<rect x="706.1" y="1040.9" width="5.6" height="15.5" rx="2.8" class="rg"/>
<rect x="725.5" y="1040.9" width="5.6" height="15.5" rx="2.8" class="rg"/>
<rect x="735.2" y="1040.9" width="5.6" height="15.5" rx="2.8" class="rg"/>
<rect x="744.8" y="1040.9" width="5.6" height="15.5" rx="2.8" class="rg"/>
<rect x="754.5" y="1040.9" width="5.6" height="15.5" rx="2.8" class="rg"/>
<rect x="793.0" y="1040.9" width="5.6" height="15.5" rx="2.8" class="rg"/>
<rect x="802.7" y="1040.9" width="5.6" height="15.5" rx="2.8" class="rg"/>
<rect x="812.5" y="1040.9" width="5.6" height="15.5" rx="2.8" class="rg"/>
<rect x="948.3" y="1040.9" width="5.6" height="15.5" rx="2.8" class="rg"/>
<path d="M641.0 846.2L950.8 724.7" class="fit"/>
<path d="M641.0 831.5L682.1 829.9L950.8 637.1" class="ci"/>
<path d="M641.0 860.6L682.1 829.9L950.8 812.9" class="ci"/>
<path d="M1104.8 616.0 V1053.4 H1439.0" class="ax"/>
<path d="M1096.8 970.6H1104.8" class="ax"/>
<path d="M1096.8 829.4H1104.8" class="ax"/>
<path d="M1096.8 688.2H1104.8" class="ax"/>
<text class="tk" transform="translate(1078.5 970.6) rotate(-90) scale(0.950 1)">-5</text>
<text class="tk" transform="translate(1078.5 829.4) rotate(-90) scale(0.950 1)">0</text>
<text class="tk" transform="translate(1078.5 688.2) rotate(-90) scale(0.950 1)">5</text>
<path d="M1115.4 1053.4V1061.4" class="ax"/>
<path d="M1197.8 1053.4V1061.4" class="ax"/>
<path d="M1280.2 1053.4V1061.4" class="ax"/>
<path d="M1362.6 1053.4V1061.4" class="ax"/>
<text class="tk" transform="translate(1115.4 1090.2) scale(0.950 1)">0.0</text>
<text class="tk" transform="translate(1197.8 1090.2) scale(0.950 1)">0.5</text>
<text class="tk" transform="translate(1280.2 1090.2) scale(0.950 1)">1.0</text>
<text class="tk" transform="translate(1362.6 1090.2) scale(0.950 1)">1.5</text>
<text class="lb" transform="translate(1271.9 1137.0) scale(1.010 1)">Nitrate</text>
<text class="lb" transform="translate(1031.2 834.7) rotate(-90) scale(1.010 1)">s(Nitrate,2.05)</text>
<rect x="1114.4" y="1040.9" width="59.8" height="15.5" rx="2.8" class="rg"/>
<rect x="1175.6" y="1040.9" width="5.6" height="15.5" rx="2.8" class="rg"/>
<rect x="1186.6" y="1040.9" width="6.0" height="15.5" rx="2.8" class="rg"/>
<rect x="1216.3" y="1040.9" width="6.0" height="15.5" rx="2.8" class="rg"/>
<rect x="1225.9" y="1040.9" width="6.0" height="15.5" rx="2.8" class="rg"/>
<rect x="1254.0" y="1040.9" width="6.0" height="15.5" rx="2.8" class="rg"/>
<rect x="1282.0" y="1040.9" width="6.0" height="15.5" rx="2.8" class="rg"/>
<rect x="1290.4" y="1040.9" width="6.1" height="15.5" rx="2.8" class="rg"/>
<rect x="1301.9" y="1040.9" width="6.0" height="15.5" rx="2.8" class="rg"/>
<rect x="1321.5" y="1040.9" width="6.0" height="15.5" rx="2.8" class="rg"/>
<rect x="1328.5" y="1040.9" width="11.1" height="15.5" rx="2.8" class="rg"/>
<rect x="1354.6" y="1040.9" width="8.0" height="15.5" rx="2.8" class="rg"/>
<rect x="1423.8" y="1040.9" width="6.4" height="15.5" rx="2.8" class="rg"/>
<path d="M1117.0 826.6L1118.9 826.1L1120.8 825.5L1122.8 824.9L1124.7 824.4L1126.6 823.8L1128.5 823.2L1130.4 822.7L1132.3 822.1L1134.3 821.6L1136.2 821.1L1138.1 820.6L1140.1 820.2L1142.1 819.8L1144.1 819.4L1146.0 819.0L1148.0 818.7L1150.0 818.3L1152.0 818.0L1154.0 817.7L1156.1 817.4L1158.1 817.2L1160.1 817.0L1162.1 816.8L1164.1 816.6L1166.1 816.5L1168.1 816.4L1170.1 816.3L1172.1 816.2L1174.1 816.2L1176.1 816.2L1178.2 816.2L1180.2 816.2L1182.2 816.3L1184.2 816.4L1186.2 816.5L1188.2 816.6L1190.2 816.7L1192.2 816.9L1194.2 817.1L1196.3 817.3L1198.3 817.5L1200.3 817.8L1202.3 818.1L1204.3 818.4L1206.3 818.7L1208.3 819.0L1210.3 819.4L1212.3 819.8L1214.3 820.2L1216.3 820.7L1218.3 821.2L1220.4 821.7L1222.4 822.2L1224.4 822.8L1226.4 823.3L1228.4 823.9L1230.3 824.6L1232.3 825.2L1234.3 825.9L1236.3 826.6L1238.3 827.3L1240.4 828.1L1242.4 828.9L1244.4 829.7L1246.4 830.6L1248.4 831.4L1250.5 832.3L1252.5 833.2L1254.5 834.2L1256.4 835.2L1258.4 836.2L1260.4 837.2L1262.4 838.3L1264.5 839.5L1266.5 840.6L1268.5 841.9L1270.5 843.1L1272.5 844.4L1274.5 845.7L1276.5 847.0L1278.4 848.3L1280.4 849.6L1282.4 851.0L1284.4 852.3L1286.4 853.7L1288.4 855.0L1290.5 856.4L1292.5 857.8L1294.5 859.3L1296.5 860.7L1298.5 862.1L1300.5 863.6L1302.5 865.0L1304.5 866.4L1306.5 867.9L1308.5 869.3L1310.5 870.7L1312.5 872.2L1314.5 873.6L1316.5 875.0L1318.5 876.5L1320.5 877.9L1322.5 879.3L1324.5 880.8L1326.5 882.2L1328.5 883.6L1330.5 885.0L1332.5 886.4L1334.5 887.8L1336.5 889.1L1338.5 890.5L1340.5 891.9L1342.5 893.2L1344.5 894.6L1346.5 895.9L1348.5 897.2L1350.5 898.5L1352.6 899.8L1354.6 901.1L1356.6 902.4L1358.6 903.6L1360.6 904.8L1362.6 906.0L1364.6 907.2L1366.6 908.4L1368.6 909.6L1370.6 910.7L1372.6 911.9L1374.7 913.0L1376.7 914.1L1378.7 915.3L1380.7 916.4L1382.7 917.5L1384.7 918.6L1386.7 919.7L1388.7 920.8L1390.8 921.9L1392.8 923.0L1394.8 924.1L1396.8 925.1L1398.8 926.2L1400.8 927.3L1402.7 928.4L1404.7 929.5L1406.6 930.6L1408.4 931.6L1410.3 932.7L1412.1 933.8L1414.0 934.9L1415.8 936.0L1417.6 937.1L1419.5 938.2L1421.3 939.2L1423.1 940.3L1425.0 941.4L1426.8 942.5" class="fit"/>
<path d="M1117.0 807.6L1119.0 808.1L1121.0 808.6L1123.0 809.1L1125.1 809.7L1127.1 810.3L1129.1 810.8L1131.1 811.3L1133.1 811.8L1135.1 812.2L1137.1 812.4L1139.1 812.6L1141.1 812.6L1143.0 812.5L1145.0 812.2L1146.9 811.8L1148.8 811.3L1150.7 810.8L1152.6 810.2L1154.5 809.5L1156.4 808.8L1158.3 808.1L1160.3 807.5L1162.2 806.8L1164.1 806.2L1166.1 805.6L1168.1 804.9L1170.1 804.2L1172.1 803.5L1174.1 802.8L1176.1 802.1L1178.1 801.4L1180.1 800.7L1182.1 800.1L1184.1 799.5L1186.2 799.0L1188.2 798.5L1190.2 798.1L1192.2 797.7L1194.2 797.3L1196.2 797.0L1198.2 796.7L1200.2 796.5L1202.2 796.3L1204.3 796.1L1206.3 795.9L1208.3 795.8L1210.3 795.7L1212.3 795.7L1214.3 795.7L1216.3 795.8L1218.3 795.8L1220.3 796.0L1222.3 796.1L1224.3 796.3L1226.3 796.6L1228.3 796.8L1230.3 797.1L1232.3 797.4L1234.3 797.7L1236.3 798.1L1238.3 798.5L1240.4 798.9L1242.4 799.3L1244.4 799.8L1246.4 800.3L1248.5 800.8L1250.5 801.4L1252.5 801.9L1254.5 802.6L1256.5 803.2L1258.4 803.9L1260.4 804.6L1262.4 805.4L1264.3 806.2L1266.3 807.1L1268.2 808.0L1270.1 808.9L1272.1 809.9L1274.0 810.9L1275.9 811.9L1277.8 812.9L1279.7 813.8L1281.5 814.8L1283.4 815.8L1285.2 816.7L1287.0 817.7L1288.7 818.6L1290.5 819.5L1292.3 820.5L1294.0 821.4L1295.7 822.4L1297.5 823.4L1299.2 824.3L1301.0 825.3L1302.7 826.2L1304.5 827.2L1306.3 828.2L1308.1 829.2L1310.0 830.2L1311.8 831.3L1313.6 832.3L1315.4 833.4L1317.3 834.4L1319.1 835.4L1320.9 836.4L1322.8 837.4L1324.6 838.3L1326.5 839.2L1328.3 840.0L1330.1 840.9L1331.9 841.7L1333.8 842.5L1335.6 843.2L1337.4 844.0L1339.2 844.7L1341.1 845.4L1343.0 846.1L1344.8 846.7L1346.7 847.3L1348.6 847.9L1350.5 848.5L1352.5 849.0L1354.5 849.5L1356.5 850.0L1358.5 850.4L1360.5 850.8L1362.5 851.2L1364.5 851.6L1366.5 851.9L1368.6 852.2L1370.6 852.5L1372.6 852.7L1374.6 852.9L1376.6 853.1L1378.6 853.2L1380.6 853.4L1382.6 853.5L1384.6 853.5L1386.6 853.6L1388.6 853.6L1390.6 853.6L1392.6 853.5L1394.7 853.4L1396.7 853.3L1398.9 853.1L1401.3 852.9L1403.7 852.6L1406.2 852.3L1408.7 851.9L1411.1 851.5L1413.5 851.1L1415.8 850.7L1417.9 850.3L1419.8 850.0L1421.4 849.6L1422.8 849.3L1423.3 849.2L1423.7 849.1L1424.1 849.0L1424.4 848.9L1424.7 848.7L1425.0 848.6L1425.3 848.5L1425.6 848.4L1425.9 848.3L1426.2 848.2L1426.5 848.1L1426.8 848.0" class="ci"/>
<path d="M1117.0 846.3L1118.7 845.0L1120.3 843.7L1121.9 842.3L1123.6 840.9L1125.2 839.4L1126.8 838.1L1128.5 836.7L1130.1 835.4L1131.8 834.2L1133.5 833.1L1135.3 832.1L1137.1 831.2L1138.9 830.5L1140.7 829.8L1142.6 829.2L1144.5 828.7L1146.4 828.3L1148.4 827.9L1150.3 827.6L1152.3 827.4L1154.2 827.2L1156.2 827.2L1158.2 827.1L1160.1 827.2L1162.1 827.4L1164.1 827.6L1166.1 828.0L1168.2 828.5L1170.2 829.1L1172.2 829.7L1174.2 830.4L1176.3 831.1L1178.3 831.8L1180.3 832.5L1182.2 833.2L1184.2 833.8L1186.1 834.4L1187.9 835.0L1189.8 835.7L1191.6 836.3L1193.4 836.9L1195.2 837.6L1197.0 838.3L1198.9 839.0L1200.7 839.7L1202.5 840.4L1204.3 841.1L1206.2 841.8L1208.2 842.6L1210.2 843.4L1212.2 844.2L1214.2 845.0L1216.2 845.8L1218.3 846.7L1220.3 847.5L1222.3 848.4L1224.3 849.3L1226.4 850.1L1228.3 851.0L1230.3 851.9L1232.2 852.8L1234.1 853.6L1236.0 854.5L1237.8 855.3L1239.7 856.2L1241.6 857.1L1243.4 857.9L1245.2 858.8L1247.0 859.8L1248.8 860.7L1250.6 861.7L1252.4 862.7L1254.1 863.7L1255.9 864.8L1257.6 865.9L1259.2 867.0L1260.9 868.1L1262.6 869.2L1264.2 870.4L1265.9 871.6L1267.5 872.7L1269.1 873.9L1270.8 875.1L1272.4 876.3L1274.0 877.5L1275.6 878.7L1277.2 879.9L1278.8 881.2L1280.4 882.4L1282.0 883.7L1283.6 885.0L1285.1 886.2L1286.7 887.5L1288.3 888.8L1289.8 890.1L1291.4 891.4L1293.0 892.7L1294.6 894.1L1296.2 895.4L1297.8 896.8L1299.4 898.2L1301.0 899.6L1302.6 901.0L1304.2 902.4L1305.8 903.8L1307.4 905.2L1308.9 906.6L1310.5 908.0L1312.0 909.4L1313.6 910.9L1315.1 912.3L1316.6 913.7L1318.1 915.2L1319.6 916.7L1321.0 918.1L1322.5 919.6L1324.0 921.0L1325.5 922.5L1327.0 924.0L1328.5 925.4L1330.0 926.8L1331.5 928.3L1333.1 929.7L1334.6 931.1L1336.1 932.5L1337.7 933.9L1339.2 935.3L1340.7 936.7L1342.2 938.1L1343.7 939.6L1345.2 941.0L1346.6 942.5L1348.0 944.0L1349.4 945.4L1350.7 946.9L1352.0 948.4L1353.4 949.9L1354.7 951.4L1356.0 952.9L1357.3 954.4L1358.6 955.9L1359.9 957.5L1361.3 959.0L1362.6 960.5L1364.0 962.1L1365.4 963.7L1366.8 965.2L1368.3 966.8L1369.7 968.4L1371.2 970.0L1372.6 971.7L1374.0 973.3L1375.5 974.9L1376.9 976.4L1378.3 978.0L1379.7 979.6L1381.1 981.1L1382.4 982.6L1383.8 984.1L1385.1 985.6L1386.5 987.1L1387.8 988.6L1389.1 990.1L1390.5 991.5L1391.8 993.0L1393.1 994.5L1394.4 996.1L1395.7 997.6L1397.0 999.2L1398.3 1000.7L1399.5 1002.3L1400.8 1003.9L1402.0 1005.5L1403.3 1007.0L1404.5 1008.6L1405.7 1010.3L1407.0 1011.9L1408.2 1013.5L1409.5 1015.1L1410.7 1016.7L1412.0 1018.3L1413.2 1020.0L1414.5 1021.7L1415.7 1023.3L1417.0 1025.0L1418.3 1026.7L1419.5 1028.3L1420.8 1030.0L1422.0 1031.7L1423.3 1033.4L1424.5 1035.0L1425.8 1036.7" class="ci"/>
<path d="M110.5 1255.0 V1752.0 H604.0" class="ax"/>
<path d="M102.5 1710.2H110.5" class="ax"/>
<path d="M102.5 1628.9H110.5" class="ax"/>
<path d="M102.5 1547.7H110.5" class="ax"/>
<path d="M102.5 1466.4H110.5" class="ax"/>
<path d="M102.5 1385.2H110.5" class="ax"/>
<path d="M102.5 1303.9H110.5" class="ax"/>
<text class="tk" transform="translate(84.2 1710.2) rotate(-90) scale(0.950 1)">-6</text>
<text class="tk" transform="translate(84.2 1628.9) rotate(-90) scale(0.950 1)">-4</text>
<text class="tk" transform="translate(84.2 1547.7) rotate(-90) scale(0.950 1)">-2</text>
<text class="tk" transform="translate(84.2 1466.4) rotate(-90) scale(0.950 1)">0</text>
<text class="tk" transform="translate(84.2 1385.2) rotate(-90) scale(0.950 1)">2</text>
<text class="tk" transform="translate(84.2 1303.9) rotate(-90) scale(0.950 1)">4</text>
<path d="M127.9 1752.0V1760.0" class="ax"/>
<path d="M204.2 1752.0V1760.0" class="ax"/>
<path d="M280.5 1752.0V1760.0" class="ax"/>
<path d="M356.8 1752.0V1760.0" class="ax"/>
<path d="M433.1 1752.0V1760.0" class="ax"/>
<path d="M509.4 1752.0V1760.0" class="ax"/>
<path d="M585.7 1752.0V1760.0" class="ax"/>
<text class="tk" transform="translate(127.9 1788.8) scale(0.950 1)">8</text>
<text class="tk" transform="translate(204.2 1788.8) scale(0.950 1)">10</text>
<text class="tk" transform="translate(280.5 1788.8) scale(0.950 1)">12</text>
<text class="tk" transform="translate(356.8 1788.8) scale(0.950 1)">14</text>
<text class="tk" transform="translate(433.1 1788.8) scale(0.950 1)">16</text>
<text class="tk" transform="translate(509.4 1788.8) scale(0.950 1)">18</text>
<text class="tk" transform="translate(585.7 1788.8) scale(0.950 1)">20</text>
<text class="lb" transform="translate(357.2 1835.6) scale(1.010 1)">Latitude</text>
<text class="lb" transform="translate(36.9 1503.5) rotate(-90) scale(1.010 1)">s(Latitude,1)</text>
<rect x="125.3" y="1734.7" width="5.9" height="20.3" rx="2.8" class="rg"/>
<rect x="135.9" y="1734.7" width="8.6" height="20.3" rx="2.8" class="rg"/>
<rect x="150.7" y="1734.7" width="6.5" height="20.3" rx="2.8" class="rg"/>
<rect x="158.6" y="1734.7" width="10.4" height="20.3" rx="2.8" class="rg"/>
<rect x="195.5" y="1734.7" width="8.0" height="20.3" rx="2.8" class="rg"/>
<rect x="238.8" y="1734.7" width="14.2" height="20.3" rx="2.8" class="rg"/>
<rect x="273.6" y="1734.7" width="9.5" height="20.3" rx="2.8" class="rg"/>
<rect x="304.6" y="1734.7" width="8.8" height="20.3" rx="2.8" class="rg"/>
<rect x="345.0" y="1734.7" width="14.1" height="20.3" rx="2.8" class="rg"/>
<rect x="396.0" y="1734.7" width="11.8" height="20.3" rx="2.8" class="rg"/>
<rect x="465.8" y="1734.7" width="12.7" height="20.3" rx="2.8" class="rg"/>
<rect x="505.0" y="1734.7" width="8.3" height="20.3" rx="2.8" class="rg"/>
<rect x="546.9" y="1734.7" width="6.2" height="20.3" rx="2.8" class="rg"/>
<rect x="577.3" y="1734.7" width="10.9" height="20.3" rx="2.8" class="rg"/>
<path d="M128.3 1390.4L585.2 1551.7" class="fit"/>
<path d="M128.3 1355.1L342.9 1466.3L585.2 1511.9" class="ci"/>
<path d="M128.3 1425.8L342.9 1466.3L585.2 1591.8" class="ci"/>
<path d="M744.7 1255.0 V1752.0 H1237.3" class="ax"/>
<path d="M736.7 1710.2H744.7" class="ax"/>
<path d="M736.7 1628.9H744.7" class="ax"/>
<path d="M736.7 1547.7H744.7" class="ax"/>
<path d="M736.7 1466.4H744.7" class="ax"/>
<path d="M736.7 1385.2H744.7" class="ax"/>
<path d="M736.7 1303.9H744.7" class="ax"/>
<text class="tk" transform="translate(718.4 1710.2) rotate(-90) scale(0.950 1)">-6</text>
<text class="tk" transform="translate(718.4 1628.9) rotate(-90) scale(0.950 1)">-4</text>
<text class="tk" transform="translate(718.4 1547.7) rotate(-90) scale(0.950 1)">-2</text>
<text class="tk" transform="translate(718.4 1466.4) rotate(-90) scale(0.950 1)">0</text>
<text class="tk" transform="translate(718.4 1385.2) rotate(-90) scale(0.950 1)">2</text>
<text class="tk" transform="translate(718.4 1303.9) rotate(-90) scale(0.950 1)">4</text>
<path d="M763.3 1752.0V1760.0" class="ax"/>
<path d="M853.6 1752.0V1760.0" class="ax"/>
<path d="M943.8 1752.0V1760.0" class="ax"/>
<path d="M1034.1 1752.0V1760.0" class="ax"/>
<path d="M1124.3 1752.0V1760.0" class="ax"/>
<path d="M1214.6 1752.0V1760.0" class="ax"/>
<text class="tk" transform="translate(763.3 1788.8) scale(0.950 1)">0</text>
<text class="tk" transform="translate(853.6 1788.8) scale(0.950 1)">2</text>
<text class="tk" transform="translate(943.8 1788.8) scale(0.950 1)">4</text>
<text class="tk" transform="translate(1034.1 1788.8) scale(0.950 1)">6</text>
<text class="tk" transform="translate(1124.3 1788.8) scale(0.950 1)">8</text>
<text class="tk" transform="translate(1214.6 1788.8) scale(0.950 1)">10</text>
<text class="lb" transform="translate(991.0 1835.6) scale(1.010 1)">WindSpeed</text>
<text class="lb" transform="translate(671.1 1503.5) rotate(-90) scale(1.010 1)">s(WindSpeed,7.51)</text>
<rect x="760.2" y="1734.7" width="5.6" height="20.3" rx="2.8" class="rg"/>
<rect x="796.0" y="1734.7" width="10.3" height="20.3" rx="2.8" class="rg"/>
<rect x="814.3" y="1734.7" width="10.3" height="20.3" rx="2.8" class="rg"/>
<rect x="828.0" y="1734.7" width="5.6" height="20.3" rx="2.8" class="rg"/>
<rect x="841.4" y="1734.7" width="32.7" height="20.3" rx="2.8" class="rg"/>
<rect x="877.7" y="1734.7" width="46.3" height="20.3" rx="2.8" class="rg"/>
<rect x="927.7" y="1734.7" width="5.6" height="20.3" rx="2.8" class="rg"/>
<rect x="936.6" y="1734.7" width="14.2" height="20.3" rx="2.8" class="rg"/>
<rect x="954.3" y="1734.7" width="10.3" height="20.3" rx="2.8" class="rg"/>
<rect x="968.2" y="1734.7" width="19.1" height="20.3" rx="2.8" class="rg"/>
<rect x="990.6" y="1734.7" width="14.7" height="20.3" rx="2.8" class="rg"/>
<rect x="1008.9" y="1734.7" width="9.7" height="20.3" rx="2.8" class="rg"/>
<rect x="1026.8" y="1734.7" width="5.6" height="20.3" rx="2.8" class="rg"/>
<rect x="1058.1" y="1734.7" width="5.9" height="20.3" rx="2.8" class="rg"/>
<rect x="1072.0" y="1734.7" width="5.6" height="20.3" rx="2.8" class="rg"/>
<rect x="1089.9" y="1734.7" width="10.4" height="20.3" rx="2.8" class="rg"/>
<rect x="1112.9" y="1734.7" width="5.6" height="20.3" rx="2.8" class="rg"/>
<rect x="1194.0" y="1734.7" width="5.6" height="20.3" rx="2.8" class="rg"/>
<rect x="1216.5" y="1734.7" width="5.6" height="20.3" rx="2.8" class="rg"/>
<path d="M762.7 1473.4L764.9 1474.4L767.1 1475.4L769.3 1476.5L771.4 1477.5L773.6 1478.6L775.8 1479.6L778.0 1480.7L780.2 1481.7L782.4 1482.6L784.6 1483.5L786.9 1484.4L789.2 1485.2L791.6 1486.0L794.0 1486.8L796.5 1487.6L799.0 1488.3L801.5 1489.0L804.0 1489.7L806.5 1490.3L809.0 1490.8L811.5 1491.2L814.0 1491.5L816.4 1491.7L818.7 1491.7L820.8 1491.6L822.8 1491.4L824.8 1491.2L826.8 1490.8L828.8 1490.4L830.8 1489.9L832.7 1489.3L834.6 1488.7L836.6 1487.9L838.5 1487.1L840.4 1486.2L842.3 1485.2L844.6 1483.8L846.8 1482.1L849.1 1480.2L851.3 1478.1L853.5 1475.9L855.7 1473.6L857.9 1471.3L860.1 1469.1L862.3 1466.9L864.4 1464.9L866.6 1463.1L868.8 1461.6L870.5 1460.5L872.2 1459.5L873.9 1458.5L875.6 1457.6L877.3 1456.7L879.0 1455.9L880.7 1455.2L882.4 1454.5L884.1 1453.9L885.9 1453.5L887.7 1453.1L889.5 1452.8L891.5 1452.7L893.5 1452.9L895.6 1453.3L897.7 1453.8L899.9 1454.4L902.0 1455.1L904.2 1455.7L906.3 1456.3L908.4 1456.7L910.5 1456.9L912.5 1456.9L914.5 1456.6L916.5 1455.9L918.5 1455.1L920.4 1454.0L922.4 1452.7L924.2 1451.3L926.1 1449.7L927.9 1448.1L929.7 1446.4L931.5 1444.6L933.2 1442.9L934.9 1441.2L936.6 1439.5L938.2 1437.8L939.8 1435.9L941.3 1433.8L942.8 1431.7L944.3 1429.6L945.7 1427.5L947.1 1425.4L948.6 1423.4L950.0 1421.6L951.4 1420.0L952.8 1418.5L954.3 1417.4L955.3 1416.8L956.3 1416.2L957.3 1415.7L958.2 1415.2L959.2 1414.8L960.2 1414.5L961.2 1414.2L962.2 1414.0L963.2 1413.9L964.2 1413.8L965.1 1413.8L966.1 1413.9L967.1 1414.0L968.1 1414.3L969.2 1414.6L970.2 1414.9L971.2 1415.4L972.2 1415.9L973.2 1416.5L974.2 1417.2L975.2 1417.9L976.1 1418.7L977.0 1419.5L977.9 1420.4L979.1 1421.9L980.3 1423.6L981.3 1425.5L982.4 1427.5L983.4 1429.7L984.3 1432.0L985.2 1434.4L986.1 1436.9L987.0 1439.4L987.9 1441.9L988.8 1444.4L989.7 1446.9L990.8 1449.8L991.8 1452.8L992.8 1455.9L993.8 1459.1L994.8 1462.3L995.7 1465.6L996.7 1468.9L997.6 1472.1L998.6 1475.4L999.6 1478.7L1000.5 1482.0L1001.5 1485.2L1002.5 1488.4L1003.4 1491.6L1004.4 1494.9L1005.3 1498.1L1006.2 1501.4L1007.2 1504.6L1008.1 1507.8L1009.1 1511.0L1010.1 1514.2L1011.1 1517.3L1012.2 1520.4L1013.3 1523.5L1014.4 1526.4L1015.5 1529.4L1016.6 1532.4L1017.7 1535.4L1018.8 1538.4L1020.0 1541.3L1021.2 1544.1L1022.4 1546.9L1023.7 1549.4L1025.1 1551.8L1026.5 1554.0L1028.0 1556.0L1029.1 1557.3L1030.3 1558.6L1031.4 1559.8L1032.7 1561.0L1033.9 1562.1L1035.2 1563.1L1036.5 1564.0L1037.7 1564.8L1039.0 1565.4L1040.3 1565.9L1041.6 1566.2L1042.8 1566.3L1044.0 1566.2L1045.3 1565.9L1046.6 1565.4L1047.8 1564.7L1049.1 1564.0L1050.4 1563.0L1051.6 1562.0L1052.8 1560.9L1054.1 1559.7L1055.2 1558.5L1056.4 1557.3L1057.5 1556.0L1058.9 1554.2L1060.3 1552.2L1061.6 1550.0L1062.8 1547.6L1064.0 1545.2L1065.2 1542.6L1066.3 1540.0L1067.5 1537.3L1068.6 1534.6L1069.8 1531.9L1071.0 1529.2L1072.2 1526.5L1073.6 1523.5L1075.1 1520.4L1076.5 1517.2L1078.0 1514.0L1079.4 1510.7L1080.9 1507.4L1082.4 1504.2L1083.9 1500.9L1085.4 1497.6L1086.9 1494.4L1088.4 1491.3L1089.9 1488.2L1091.3 1485.3L1092.7 1482.5L1094.1 1479.6L1095.5 1476.7L1096.9 1473.9L1098.3 1471.0L1099.7 1468.3L1101.2 1465.6L1102.7 1463.0L1104.3 1460.4L1105.9 1458.0L1107.6 1455.7L1109.1 1453.8L1110.7 1451.9L1112.3 1450.1L1114.0 1448.3L1115.7 1446.6L1117.4 1445.0L1119.1 1443.4L1120.9 1441.9L1122.7 1440.5L1124.5 1439.1L1126.4 1437.8L1128.3 1436.6L1130.1 1435.5L1132.0 1434.6L1133.9 1433.7L1135.9 1432.9L1137.9 1432.1L1139.9 1431.4L1141.9 1430.8L1143.9 1430.1L1145.9 1429.5L1147.9 1428.9L1149.9 1428.3L1151.8 1427.7L1153.6 1427.2L1155.3 1426.7L1157.1 1426.3L1158.8 1426.0L1160.6 1425.6L1162.3 1425.3L1164.0 1424.9L1165.7 1424.5L1167.4 1424.0L1169.1 1423.4L1170.8 1422.7L1172.5 1421.8L1174.5 1420.6L1176.6 1419.2L1178.6 1417.7L1180.6 1416.1L1182.6 1414.3L1184.6 1412.5L1186.6 1410.5L1188.6 1408.5L1190.5 1406.4L1192.4 1404.2L1194.3 1402.0L1196.1 1399.7L1198.3 1396.8L1200.4 1393.7L1202.5 1390.4L1204.5 1387.0L1206.5 1383.4L1208.5 1379.8L1210.4 1376.1L1212.4 1372.4L1214.3 1368.7L1216.2 1365.1L1218.2 1361.4L1220.2 1357.9" class="fit"/>
<path d="M762.7 1382.0L763.4 1384.0L764.1 1385.9L764.9 1387.9L765.6 1389.9L766.3 1391.9L767.0 1393.9L767.7 1395.8L768.4 1397.8L769.2 1399.8L769.9 1401.7L770.7 1403.7L771.5 1405.6L772.3 1407.5L773.1 1409.4L773.9 1411.3L774.7 1413.2L775.5 1415.0L776.3 1416.9L777.2 1418.7L778.0 1420.6L779.0 1422.4L779.9 1424.2L780.9 1426.0L781.9 1427.7L783.0 1429.4L784.0 1431.1L785.1 1432.8L786.3 1434.5L787.4 1436.1L788.6 1437.8L789.9 1439.4L791.1 1441.0L792.4 1442.5L793.8 1444.0L795.2 1445.5L796.6 1446.9L798.1 1448.3L799.8 1449.8L801.5 1451.2L803.3 1452.7L805.1 1454.1L806.9 1455.4L808.7 1456.7L810.5 1457.9L812.3 1459.0L814.0 1460.0L815.7 1460.9L817.2 1461.6L818.1 1462.0L819.0 1462.4L819.9 1462.7L820.8 1463.1L821.6 1463.3L822.4 1463.6L823.3 1463.7L824.1 1463.9L824.9 1464.0L825.8 1464.0L826.6 1464.0L827.5 1464.0L828.6 1463.9L829.6 1463.7L830.7 1463.4L831.8 1463.1L832.9 1462.7L834.0 1462.3L835.2 1461.8L836.3 1461.3L837.4 1460.7L838.5 1460.0L839.7 1459.4L840.8 1458.7L842.2 1457.7L843.7 1456.6L845.1 1455.3L846.5 1453.9L847.9 1452.4L849.4 1450.9L850.8 1449.4L852.3 1447.9L853.8 1446.4L855.3 1445.0L856.9 1443.7L858.5 1442.5L860.2 1441.3L862.0 1440.2L863.8 1439.0L865.7 1437.9L867.6 1436.8L869.5 1435.8L871.4 1434.8L873.3 1433.9L875.2 1433.1L877.1 1432.4L878.9 1431.8L880.6 1431.3L881.9 1431.1L883.1 1430.9L884.3 1430.8L885.5 1430.8L886.6 1430.8L887.8 1430.9L889.0 1431.0L890.1 1431.1L891.3 1431.3L892.5 1431.4L893.7 1431.4L895.0 1431.5L896.5 1431.6L898.1 1431.7L899.8 1431.9L901.5 1432.0L903.2 1432.2L904.9 1432.4L906.6 1432.5L908.3 1432.6L910.0 1432.6L911.6 1432.6L913.1 1432.4L914.5 1432.1L915.6 1431.8L916.7 1431.4L917.8 1430.9L918.8 1430.4L919.7 1429.9L920.7 1429.3L921.6 1428.6L922.6 1427.9L923.5 1427.2L924.4 1426.4L925.3 1425.6L926.3 1424.8L927.5 1423.6L928.8 1422.3L930.0 1420.8L931.1 1419.3L932.3 1417.7L933.5 1416.0L934.7 1414.3L935.9 1412.7L937.1 1411.0L938.4 1409.3L939.7 1407.7L941.0 1406.2L942.5 1404.6L944.0 1402.9L945.6 1401.2L947.3 1399.4L948.9 1397.7L950.6 1396.0L952.3 1394.4L954.0 1392.9L955.6 1391.5L957.2 1390.3L958.7 1389.3L960.2 1388.5L961.1 1388.1L961.9 1387.8L962.8 1387.5L963.6 1387.3L964.5 1387.1L965.3 1387.0L966.1 1387.0L966.9 1387.0L967.7 1387.0L968.5 1387.1L969.2 1387.3L970.0 1387.5L970.9 1387.8L971.7 1388.3L972.5 1388.8L973.3 1389.4L974.1 1390.1L974.9 1390.8L975.7 1391.6L976.5 1392.4L977.2 1393.3L978.0 1394.3L978.7 1395.2L979.4 1396.2L980.4 1397.7L981.3 1399.3L982.2 1401.0L983.1 1402.8L984.0 1404.7L984.9 1406.7L985.7 1408.8L986.5 1410.8L987.3 1412.9L988.1 1414.9L988.9 1416.9L989.7 1418.9L990.5 1420.8L991.3 1422.8L992.0 1424.8L992.8 1426.7L993.5 1428.7L994.3 1430.7L995.0 1432.7L995.7 1434.7L996.4 1436.6L997.1 1438.6L997.8 1440.6L998.5 1442.5L999.1 1444.4L999.8 1446.2L1000.4 1448.1L1001.0 1449.9L1001.6 1451.7L1002.2 1453.6L1002.8 1455.4L1003.4 1457.2L1004.0 1459.0L1004.6 1460.9L1005.2 1462.7L1005.9 1464.6L1006.6 1466.5L1007.3 1468.5L1008.0 1470.5L1008.7 1472.5L1009.4 1474.5L1010.1 1476.4L1010.8 1478.4L1011.6 1480.4L1012.3 1482.4L1013.1 1484.3L1014.0 1486.3L1014.8 1488.2L1015.6 1490.1L1016.5 1492.1L1017.3 1494.1L1018.2 1496.1L1019.1 1498.1L1020.0 1500.0L1020.9 1502.0L1021.9 1503.8L1022.9 1505.6L1024.0 1507.3L1025.2 1508.9L1026.5 1510.3L1027.7 1511.6L1029.1 1512.8L1030.5 1514.1L1031.9 1515.3L1033.4 1516.4L1034.9 1517.5L1036.5 1518.5L1038.1 1519.3L1039.6 1519.9L1041.2 1520.4L1042.7 1520.6L1044.2 1520.6L1045.8 1520.3L1047.5 1519.6L1049.2 1518.7L1050.9 1517.6L1052.6 1516.2L1054.3 1514.7L1055.9 1513.0L1057.6 1511.3L1059.1 1509.5L1060.6 1507.8L1062.1 1506.1L1063.4 1504.4L1064.6 1502.8L1065.8 1501.1L1066.9 1499.3L1067.9 1497.5L1068.9 1495.6L1069.8 1493.7L1070.8 1491.8L1071.6 1489.9L1072.5 1488.0L1073.4 1486.1L1074.3 1484.2L1075.2 1482.3L1076.1 1480.5L1077.0 1478.6L1077.9 1476.8L1078.8 1475.0L1079.7 1473.1L1080.6 1471.3L1081.5 1469.5L1082.3 1467.6L1083.2 1465.8L1084.0 1463.9L1084.7 1462.1L1085.5 1460.2L1086.2 1458.4L1086.9 1456.5L1087.5 1454.7L1088.1 1452.9L1088.7 1451.1L1089.3 1449.2L1089.9 1447.4L1090.5 1445.5L1091.1 1443.7L1091.6 1441.8L1092.3 1439.9L1092.9 1438.0L1093.6 1436.0L1094.3 1433.9L1095.0 1431.8L1095.7 1429.7L1096.5 1427.6L1097.2 1425.5L1097.9 1423.4L1098.7 1421.3L1099.4 1419.2L1100.2 1417.1L1100.9 1415.0L1101.7 1413.0L1102.4 1411.1L1103.2 1409.2L1103.9 1407.4L1104.6 1405.5L1105.4 1403.7L1106.1 1401.9L1106.9 1400.1L1107.6 1398.3L1108.4 1396.4L1109.1 1394.6L1109.9 1392.8L1110.6 1390.9L1111.3 1389.0L1112.0 1387.0L1112.7 1385.0L1113.4 1383.0L1114.1 1381.0L1114.8 1379.0L1115.5 1377.0L1116.2 1375.0L1117.0 1373.1L1117.7 1371.1L1118.5 1369.2L1119.4 1367.3L1120.3 1365.5L1121.1 1363.7L1122.0 1361.9L1123.0 1360.2L1123.9 1358.5L1124.9 1356.7L1125.8 1355.0L1126.9 1353.3L1127.9 1351.7L1129.0 1350.0L1130.1 1348.3L1131.2 1346.7L1132.4 1345.0L1133.6 1343.2L1134.8 1341.4L1136.0 1339.7L1137.3 1337.9L1138.6 1336.1L1139.9 1334.5L1141.3 1332.8L1142.8 1331.3L1144.2 1329.9L1145.8 1328.6L1147.4 1327.5L1149.0 1326.6L1150.7 1325.7L1152.6 1325.0L1154.4 1324.3L1156.3 1323.8L1158.3 1323.3L1160.2 1322.9L1162.2 1322.5L1164.1 1322.2L1166.0 1322.0L1167.8 1321.8L1169.5 1321.6L1170.9 1321.5L1172.3 1321.5L1173.6 1321.5L1175.0 1321.6L1176.3 1321.8L1177.6 1321.9L1178.9 1322.1L1180.2 1322.3L1181.4 1322.5L1182.7 1322.7L1183.8 1322.8L1185.0 1323.0L1185.9 1323.1L1186.8 1323.3L1187.6 1323.5L1188.4 1323.8L1189.2 1324.0L1190.0 1324.2L1190.8 1324.4L1191.6 1324.5L1192.4 1324.6L1193.1 1324.7L1193.9 1324.6L1194.6 1324.5L1195.4 1324.3L1196.1 1323.9L1196.9 1323.5L1197.6 1323.1L1198.3 1322.6L1199.1 1322.0L1199.8 1321.4L1200.4 1320.7L1201.1 1320.1L1201.8 1319.4L1202.4 1318.7L1203.0 1318.0L1203.6 1317.2L1204.2 1316.4L1204.8 1315.6L1205.3 1314.8L1205.9 1313.9L1206.4 1313.0L1206.9 1312.1L1207.3 1311.1L1207.8 1310.1L1208.3 1309.1L1208.8 1308.0L1209.3 1306.9L1210.0 1305.2L1210.7 1303.4L1211.5 1301.5L1212.2 1299.4L1212.9 1297.3L1213.6 1295.2L1214.3 1293.0L1215.0 1290.9L1215.6 1288.8L1216.2 1286.9L1216.8 1285.0L1217.3 1283.3L1217.6 1282.2L1217.9 1281.2L1218.2 1280.2L1218.4 1279.2L1218.7 1278.3L1218.9 1277.4L1219.1 1276.5L1219.3 1275.6L1219.5 1274.7L1219.7 1273.8L1220.0 1272.9L1220.2 1272.0" class="ci"/>
<path d="M762.7 1566.3L763.8 1564.4L764.9 1562.6L765.9 1560.7L767.0 1558.7L768.0 1556.8L769.1 1554.9L770.2 1553.0L771.3 1551.2L772.4 1549.4L773.6 1547.6L774.8 1545.9L776.0 1544.2L777.2 1542.7L778.4 1541.1L779.6 1539.6L780.9 1538.1L782.1 1536.6L783.4 1535.1L784.8 1533.7L786.1 1532.4L787.6 1531.2L789.0 1530.0L790.6 1528.9L792.2 1528.0L794.0 1527.2L795.9 1526.5L797.9 1526.0L800.0 1525.7L802.2 1525.4L804.4 1525.1L806.6 1524.9L808.8 1524.7L810.9 1524.4L813.1 1524.1L815.2 1523.6L817.2 1523.0L819.1 1522.3L821.0 1521.5L822.9 1520.7L824.8 1519.8L826.7 1518.9L828.5 1517.9L830.3 1517.0L832.1 1515.9L833.9 1514.9L835.7 1513.8L837.5 1512.8L839.3 1511.7L841.1 1510.6L842.9 1509.5L844.7 1508.3L846.4 1507.1L848.2 1505.9L849.9 1504.7L851.6 1503.5L853.4 1502.2L855.1 1500.9L856.7 1499.6L858.4 1498.3L860.0 1497.0L861.6 1495.6L863.1 1494.2L864.6 1492.6L866.1 1491.0L867.6 1489.4L869.1 1487.8L870.5 1486.3L872.0 1484.8L873.4 1483.4L874.8 1482.2L876.3 1481.1L877.7 1480.2L878.7 1479.7L879.7 1479.2L880.7 1478.9L881.6 1478.5L882.6 1478.3L883.6 1478.0L884.6 1477.8L885.5 1477.7L886.5 1477.6L887.5 1477.5L888.5 1477.4L889.5 1477.3L890.6 1477.3L891.7 1477.3L892.8 1477.3L893.9 1477.4L895.0 1477.6L896.1 1477.7L897.3 1477.9L898.4 1478.1L899.5 1478.2L900.6 1478.4L901.7 1478.6L902.7 1478.7L903.6 1478.8L904.5 1478.9L905.3 1479.1L906.2 1479.2L907.0 1479.3L907.9 1479.5L908.7 1479.6L909.6 1479.7L910.4 1479.8L911.3 1479.9L912.1 1480.0L913.0 1480.0L914.0 1480.0L914.9 1480.1L915.9 1480.2L916.8 1480.2L917.8 1480.3L918.8 1480.3L919.8 1480.3L920.8 1480.2L921.8 1480.1L922.8 1479.9L923.8 1479.7L924.8 1479.3L926.3 1478.6L927.9 1477.7L929.6 1476.6L931.2 1475.4L932.9 1474.0L934.6 1472.6L936.3 1471.0L937.9 1469.4L939.5 1467.8L941.1 1466.2L942.6 1464.6L944.0 1463.1L945.3 1461.6L946.5 1459.9L947.7 1458.2L948.8 1456.3L949.9 1454.5L950.9 1452.7L952.0 1450.9L953.0 1449.2L954.1 1447.6L955.1 1446.2L956.2 1444.9L957.3 1443.9L958.0 1443.3L958.7 1442.8L959.5 1442.3L960.2 1441.9L960.9 1441.5L961.6 1441.2L962.4 1440.9L963.1 1440.6L963.8 1440.5L964.6 1440.4L965.3 1440.4L966.1 1440.4L967.1 1440.6L968.0 1440.9L969.1 1441.3L970.1 1441.8L971.1 1442.4L972.2 1443.0L973.2 1443.8L974.2 1444.6L975.2 1445.5L976.1 1446.4L977.0 1447.4L977.9 1448.4L979.0 1449.8L980.0 1451.5L981.0 1453.2L981.9 1455.1L982.8 1457.1L983.6 1459.2L984.4 1461.3L985.2 1463.5L986.0 1465.6L986.7 1467.8L987.5 1469.9L988.2 1471.9L988.9 1473.8L989.6 1475.8L990.2 1477.8L990.9 1479.7L991.5 1481.7L992.1 1483.7L992.7 1485.6L993.2 1487.6L993.8 1489.6L994.4 1491.6L995.0 1493.5L995.6 1495.5L996.2 1497.5L996.9 1499.4L997.5 1501.4L998.1 1503.4L998.8 1505.3L999.4 1507.3L1000.0 1509.3L1000.6 1511.2L1001.3 1513.2L1001.9 1515.2L1002.4 1517.1L1003.0 1519.1L1003.5 1521.1L1004.1 1523.0L1004.5 1525.0L1005.0 1527.0L1005.5 1528.9L1006.0 1530.9L1006.4 1532.9L1006.9 1534.8L1007.4 1536.8L1007.9 1538.8L1008.4 1540.7L1008.9 1542.7L1009.5 1544.7L1010.0 1546.6L1010.6 1548.6L1011.2 1550.6L1011.8 1552.5L1012.5 1554.5L1013.1 1556.5L1013.7 1558.4L1014.3 1560.4L1015.0 1562.4L1015.6 1564.3L1016.2 1566.3L1016.8 1568.3L1017.4 1570.3L1017.9 1572.3L1018.5 1574.3L1019.0 1576.3L1019.6 1578.3L1020.2 1580.3L1020.8 1582.2L1021.4 1584.2L1022.1 1586.1L1022.8 1588.0L1023.6 1589.9L1024.4 1591.8L1025.3 1593.7L1026.2 1595.7L1027.1 1597.7L1028.1 1599.6L1029.0 1601.6L1030.1 1603.4L1031.1 1605.2L1032.1 1606.8L1033.2 1608.2L1034.3 1609.5L1035.4 1610.5L1036.1 1611.0L1036.8 1611.5L1037.5 1612.0L1038.2 1612.4L1038.9 1612.8L1039.7 1613.0L1040.4 1613.3L1041.2 1613.5L1041.9 1613.6L1042.7 1613.6L1043.4 1613.6L1044.2 1613.5L1045.3 1613.2L1046.4 1612.8L1047.5 1612.2L1048.6 1611.5L1049.8 1610.7L1051.0 1609.8L1052.1 1608.8L1053.2 1607.7L1054.4 1606.6L1055.5 1605.4L1056.5 1604.3L1057.5 1603.1L1058.7 1601.6L1059.8 1600.0L1060.9 1598.3L1061.9 1596.6L1062.9 1594.7L1063.9 1592.8L1064.8 1590.8L1065.8 1588.9L1066.7 1586.9L1067.6 1584.9L1068.4 1582.9L1069.3 1581.0L1070.1 1579.1L1070.9 1577.1L1071.7 1575.2L1072.4 1573.2L1073.1 1571.2L1073.8 1569.2L1074.5 1567.2L1075.2 1565.2L1075.9 1563.3L1076.6 1561.3L1077.3 1559.3L1078.1 1557.4L1078.9 1555.5L1079.6 1553.6L1080.4 1551.7L1081.2 1549.7L1081.9 1547.8L1082.7 1545.9L1083.6 1544.1L1084.4 1542.2L1085.3 1540.4L1086.3 1538.7L1087.3 1536.9L1088.4 1535.3L1089.5 1533.7L1090.7 1532.1L1091.9 1530.4L1093.1 1528.7L1094.4 1527.1L1095.7 1525.6L1097.1 1524.1L1098.5 1522.8L1100.0 1521.6L1101.5 1520.5L1103.1 1519.7L1104.7 1519.1L1106.4 1518.7L1108.2 1518.6L1110.1 1518.7L1112.0 1519.0L1114.0 1519.5L1116.0 1520.0L1118.1 1520.7L1120.2 1521.4L1122.2 1522.1L1124.3 1522.8L1126.3 1523.5L1128.3 1524.1L1130.4 1524.8L1132.5 1525.6L1134.6 1526.5L1136.8 1527.5L1138.9 1528.6L1141.0 1529.6L1143.1 1530.6L1145.2 1531.4L1147.3 1532.1L1149.4 1532.7L1151.3 1533.0L1153.3 1533.0L1155.0 1532.8L1156.8 1532.5L1158.5 1532.0L1160.2 1531.4L1161.9 1530.7L1163.5 1529.9L1165.1 1529.0L1166.7 1528.0L1168.2 1526.9L1169.7 1525.8L1171.1 1524.7L1172.5 1523.5L1173.9 1522.2L1175.2 1520.7L1176.4 1519.2L1177.6 1517.5L1178.7 1515.8L1179.8 1514.0L1180.8 1512.2L1181.8 1510.3L1182.8 1508.5L1183.8 1506.6L1184.7 1504.7L1185.7 1502.9L1186.7 1501.0L1187.6 1499.1L1188.5 1497.2L1189.4 1495.2L1190.3 1493.3L1191.2 1491.3L1192.0 1489.3L1192.8 1487.3L1193.6 1485.3L1194.5 1483.3L1195.3 1481.3L1196.1 1479.3L1196.9 1477.3L1197.7 1475.3L1198.5 1473.3L1199.3 1471.3L1200.1 1469.3L1200.9 1467.3L1201.7 1465.3L1202.5 1463.3L1203.2 1461.4L1204.0 1459.4L1204.7 1457.5L1205.5 1455.7L1206.1 1454.1L1206.8 1452.6L1207.4 1451.1L1208.0 1449.6L1208.7 1448.1L1209.3 1446.7L1209.9 1445.2L1210.5 1443.8L1211.1 1442.4L1211.8 1440.9L1212.4 1439.5L1213.0 1438.0" class="ci"/>
<path d="M1379.6 1255.0 V1752.0 H1872.3" class="ax"/>
<path d="M1371.6 1710.2H1379.6" class="ax"/>
<path d="M1371.6 1628.9H1379.6" class="ax"/>
<path d="M1371.6 1547.7H1379.6" class="ax"/>
<path d="M1371.6 1466.4H1379.6" class="ax"/>
<path d="M1371.6 1385.2H1379.6" class="ax"/>
<path d="M1371.6 1303.9H1379.6" class="ax"/>
<text class="tk" transform="translate(1353.3 1710.2) rotate(-90) scale(0.950 1)">-6</text>
<text class="tk" transform="translate(1353.3 1628.9) rotate(-90) scale(0.950 1)">-4</text>
<text class="tk" transform="translate(1353.3 1547.7) rotate(-90) scale(0.950 1)">-2</text>
<text class="tk" transform="translate(1353.3 1466.4) rotate(-90) scale(0.950 1)">0</text>
<text class="tk" transform="translate(1353.3 1385.2) rotate(-90) scale(0.950 1)">2</text>
<text class="tk" transform="translate(1353.3 1303.9) rotate(-90) scale(0.950 1)">4</text>
<path d="M1424.7 1752.0V1760.0" class="ax"/>
<path d="M1495.8 1752.0V1760.0" class="ax"/>
<path d="M1567.0 1752.0V1760.0" class="ax"/>
<path d="M1638.2 1752.0V1760.0" class="ax"/>
<path d="M1709.3 1752.0V1760.0" class="ax"/>
<path d="M1780.4 1752.0V1760.0" class="ax"/>
<path d="M1851.6 1752.0V1760.0" class="ax"/>
<text class="tk" transform="translate(1424.7 1788.8) scale(0.950 1)">26</text>
<text class="tk" transform="translate(1495.8 1788.8) scale(0.950 1)">27</text>
<text class="tk" transform="translate(1567.0 1788.8) scale(0.950 1)">28</text>
<text class="tk" transform="translate(1638.2 1788.8) scale(0.950 1)">29</text>
<text class="tk" transform="translate(1709.3 1788.8) scale(0.950 1)">30</text>
<text class="tk" transform="translate(1780.4 1788.8) scale(0.950 1)">31</text>
<text class="tk" transform="translate(1851.6 1788.8) scale(0.950 1)">32</text>
<text class="lb" transform="translate(1625.9 1835.6) scale(1.010 1)">SST</text>
<text class="lb" transform="translate(1306.0 1503.5) rotate(-90) scale(1.010 1)">s(SST,3.85)</text>
<rect x="1394.5" y="1734.7" width="5.6" height="20.3" rx="2.8" class="rg"/>
<rect x="1403.0" y="1734.7" width="10.0" height="20.3" rx="2.8" class="rg"/>
<rect x="1475.2" y="1734.7" width="5.6" height="20.3" rx="2.8" class="rg"/>
<rect x="1485.5" y="1734.7" width="5.9" height="20.3" rx="2.8" class="rg"/>
<rect x="1508.5" y="1734.7" width="5.6" height="20.3" rx="2.8" class="rg"/>
<rect x="1516.8" y="1734.7" width="5.9" height="20.3" rx="2.8" class="rg"/>
<rect x="1531.2" y="1734.7" width="5.6" height="20.3" rx="2.8" class="rg"/>
<rect x="1602.5" y="1734.7" width="5.6" height="20.3" rx="2.8" class="rg"/>
<rect x="1620.3" y="1734.7" width="10.9" height="20.3" rx="2.8" class="rg"/>
<rect x="1642.3" y="1734.7" width="5.6" height="20.3" rx="2.8" class="rg"/>
<rect x="1661.0" y="1734.7" width="5.6" height="20.3" rx="2.8" class="rg"/>
<rect x="1675.3" y="1734.7" width="5.6" height="20.3" rx="2.8" class="rg"/>
<rect x="1695.9" y="1734.7" width="5.6" height="20.3" rx="2.8" class="rg"/>
<rect x="1704.2" y="1734.7" width="11.0" height="20.3" rx="2.8" class="rg"/>
<rect x="1717.5" y="1734.7" width="15.0" height="20.3" rx="2.8" class="rg"/>
<rect x="1734.4" y="1734.7" width="5.9" height="20.3" rx="2.8" class="rg"/>
<rect x="1746.5" y="1734.7" width="22.1" height="20.3" rx="2.8" class="rg"/>
<rect x="1771.5" y="1734.7" width="33.0" height="20.3" rx="2.8" class="rg"/>
<rect x="1804.5" y="1734.7" width="8.3" height="20.3" rx="2.8" class="rg"/>
<rect x="1815.2" y="1734.7" width="21.2" height="20.3" rx="2.8" class="rg"/>
<rect x="1847.3" y="1734.7" width="9.4" height="20.3" rx="2.8" class="rg"/>
<path d="M1397.7 1649.0L1399.4 1645.0L1401.1 1640.9L1402.8 1636.9L1404.6 1632.8L1406.3 1628.8L1408.0 1624.7L1409.7 1620.7L1411.4 1616.6L1413.1 1612.6L1414.9 1608.5L1416.6 1604.5L1418.3 1600.4L1420.0 1596.3L1421.7 1592.3L1423.5 1588.2L1425.2 1584.1L1426.9 1580.0L1428.6 1575.9L1430.3 1571.9L1432.1 1567.8L1433.8 1563.8L1435.5 1559.7L1437.3 1555.7L1439.0 1551.7L1440.7 1547.8L1442.4 1543.9L1444.1 1540.1L1445.8 1536.2L1447.5 1532.3L1449.2 1528.5L1450.9 1524.7L1452.6 1520.9L1454.4 1517.1L1456.1 1513.4L1457.8 1509.7L1459.6 1506.0L1461.3 1502.6L1462.9 1499.2L1464.6 1495.8L1466.3 1492.5L1468.0 1489.1L1469.6 1485.8L1471.4 1482.6L1473.1 1479.3L1474.8 1476.0L1476.6 1472.8L1478.4 1469.5L1480.2 1466.3L1482.1 1463.0L1483.9 1459.7L1485.8 1456.4L1487.7 1453.1L1489.7 1449.8L1491.6 1446.5L1493.6 1443.3L1495.6 1440.1L1497.6 1436.9L1499.7 1433.8L1501.7 1430.8L1503.8 1427.9L1505.7 1425.3L1507.6 1422.8L1509.5 1420.3L1511.4 1417.8L1513.3 1415.3L1515.3 1413.0L1517.3 1410.6L1519.2 1408.4L1521.2 1406.1L1523.3 1404.0L1525.3 1401.9L1527.4 1399.9L1529.3 1398.1L1531.2 1396.4L1533.1 1394.7L1535.0 1393.1L1536.9 1391.5L1538.9 1389.9L1540.8 1388.5L1542.8 1387.0L1544.8 1385.7L1546.9 1384.4L1548.9 1383.3L1551.0 1382.2L1553.0 1381.3L1555.0 1380.4L1557.0 1379.5L1559.1 1378.8L1561.2 1378.1L1563.3 1377.4L1565.4 1376.9L1567.5 1376.4L1569.7 1376.0L1571.8 1375.7L1573.9 1375.5L1576.0 1375.4L1578.1 1375.4L1580.2 1375.5L1582.3 1375.7L1584.4 1376.0L1586.5 1376.4L1588.6 1376.9L1590.7 1377.4L1592.8 1378.0L1594.9 1378.6L1597.0 1379.3L1599.0 1380.0L1601.1 1380.8L1603.3 1381.7L1605.6 1382.6L1607.8 1383.7L1610.0 1384.8L1612.2 1386.0L1614.4 1387.2L1616.6 1388.5L1618.8 1389.8L1621.0 1391.2L1623.2 1392.6L1625.4 1394.0L1627.6 1395.5L1630.1 1397.2L1632.5 1399.0L1635.0 1400.9L1637.4 1402.9L1639.9 1404.9L1642.3 1406.9L1644.8 1409.0L1647.2 1411.0L1649.7 1413.1L1652.2 1415.2L1654.6 1417.2L1657.1 1419.1L1659.5 1421.0L1662.0 1422.9L1664.4 1424.8L1666.9 1426.7L1669.3 1428.6L1671.8 1430.5L1674.2 1432.3L1676.7 1434.2L1679.1 1436.0L1681.6 1437.8L1684.1 1439.5L1686.6 1441.2L1689.0 1442.8L1691.4 1444.4L1693.9 1446.0L1696.3 1447.6L1698.7 1449.2L1701.2 1450.7L1703.7 1452.2L1706.1 1453.7L1708.6 1455.1L1711.1 1456.4L1713.6 1457.7L1716.1 1458.9L1718.5 1460.0L1721.0 1461.1L1723.4 1462.1L1725.9 1463.1L1728.4 1464.1L1730.9 1465.0L1733.4 1465.8L1735.9 1466.6L1738.4 1467.3L1740.8 1468.0L1743.2 1468.6L1745.6 1469.2L1747.6 1469.6L1749.6 1470.0L1751.6 1470.4L1753.5 1470.7L1755.4 1470.9L1757.4 1471.1L1759.3 1471.3L1761.2 1471.4L1763.2 1471.5L1765.1 1471.6L1767.2 1471.6L1769.2 1471.6L1771.5 1471.5L1773.9 1471.4L1776.3 1471.2L1778.8 1470.9L1781.2 1470.6L1783.7 1470.3L1786.2 1469.9L1788.7 1469.5L1791.2 1469.1L1793.7 1468.6L1796.1 1468.2L1798.6 1467.7L1801.1 1467.2L1803.6 1466.7L1806.0 1466.2L1808.5 1465.6L1811.0 1465.0L1813.5 1464.4L1815.9 1463.8L1818.4 1463.1L1820.8 1462.5L1823.3 1461.8L1825.7 1461.1L1828.1 1460.4L1830.4 1459.7L1832.7 1459.0L1835.0 1458.2L1837.2 1457.4L1839.5 1456.6L1841.7 1455.8L1844.0 1455.0L1846.2 1454.2L1848.5 1453.3L1850.7 1452.5L1852.9 1451.7L1855.2 1450.9" class="fit"/>
<path d="M1396.2 1565.0L1397.3 1563.2L1398.4 1561.3L1399.5 1559.5L1400.6 1557.6L1401.7 1555.8L1402.9 1554.0L1404.0 1552.1L1405.1 1550.3L1406.2 1548.4L1407.3 1546.6L1408.4 1544.7L1409.5 1542.9L1410.6 1541.1L1411.7 1539.2L1412.8 1537.4L1414.0 1535.5L1415.1 1533.7L1416.2 1531.9L1417.3 1530.0L1418.4 1528.2L1419.5 1526.3L1420.6 1524.5L1421.6 1522.7L1422.7 1520.8L1423.7 1519.0L1424.7 1517.1L1425.7 1515.3L1426.7 1513.5L1427.7 1511.6L1428.7 1509.8L1429.6 1507.9L1430.6 1506.1L1431.6 1504.2L1432.5 1502.4L1433.5 1500.5L1434.5 1498.7L1435.5 1496.9L1436.5 1495.0L1437.5 1493.2L1438.5 1491.3L1439.5 1489.5L1440.5 1487.6L1441.5 1485.8L1442.4 1483.9L1443.4 1482.1L1444.4 1480.2L1445.4 1478.4L1446.3 1476.6L1447.2 1474.9L1448.1 1473.1L1448.9 1471.4L1449.8 1469.7L1450.7 1468.0L1451.5 1466.3L1452.4 1464.5L1453.2 1462.8L1454.1 1461.1L1454.9 1459.4L1455.8 1457.6L1456.7 1455.9L1457.6 1454.1L1458.6 1452.2L1459.6 1450.4L1460.5 1448.6L1461.5 1446.7L1462.5 1444.9L1463.5 1443.0L1464.4 1441.1L1465.4 1439.3L1466.4 1437.5L1467.4 1435.6L1468.4 1433.8L1469.4 1432.0L1470.3 1430.2L1471.3 1428.4L1472.3 1426.7L1473.2 1424.9L1474.2 1423.1L1475.2 1421.4L1476.2 1419.6L1477.1 1417.8L1478.1 1416.1L1479.2 1414.3L1480.2 1412.6L1481.3 1410.9L1482.3 1409.1L1483.4 1407.4L1484.5 1405.7L1485.6 1404.0L1486.7 1402.2L1487.8 1400.5L1488.9 1398.8L1490.1 1397.1L1491.2 1395.4L1492.3 1393.7L1493.5 1392.0L1494.7 1390.3L1495.9 1388.5L1497.0 1386.8L1498.2 1385.0L1499.4 1383.3L1500.7 1381.5L1501.9 1379.8L1503.1 1378.1L1504.4 1376.3L1505.6 1374.6L1506.9 1373.0L1508.2 1371.3L1509.5 1369.7L1510.8 1368.1L1512.1 1366.5L1513.4 1364.9L1514.7 1363.3L1516.1 1361.7L1517.4 1360.1L1518.8 1358.6L1520.2 1357.1L1521.6 1355.6L1523.0 1354.1L1524.5 1352.7L1526.0 1351.3L1527.5 1349.8L1529.0 1348.4L1530.6 1347.0L1532.1 1345.6L1533.7 1344.2L1535.3 1342.9L1536.9 1341.6L1538.6 1340.4L1540.2 1339.2L1541.9 1338.1L1543.6 1337.1L1545.3 1336.2L1547.0 1335.3L1548.7 1334.5L1550.5 1333.7L1552.3 1332.9L1554.1 1332.2L1555.9 1331.6L1557.7 1331.0L1559.4 1330.5L1561.1 1330.0L1562.8 1329.6L1564.3 1329.2L1565.4 1329.0L1566.4 1328.8L1567.4 1328.6L1568.4 1328.5L1569.3 1328.4L1570.2 1328.3L1571.2 1328.3L1572.1 1328.2L1573.0 1328.2L1574.0 1328.2L1575.0 1328.3L1576.0 1328.3L1577.2 1328.3L1578.4 1328.4L1579.5 1328.5L1580.8 1328.6L1582.0 1328.7L1583.2 1328.9L1584.4 1329.0L1585.7 1329.3L1587.0 1329.5L1588.2 1329.8L1589.5 1330.2L1590.8 1330.6L1592.4 1331.2L1594.1 1331.9L1595.8 1332.6L1597.6 1333.5L1599.3 1334.4L1601.1 1335.3L1602.9 1336.3L1604.6 1337.4L1606.3 1338.4L1608.1 1339.5L1609.8 1340.7L1611.4 1341.8L1613.1 1343.0L1614.7 1344.3L1616.4 1345.6L1618.0 1347.0L1619.6 1348.4L1621.2 1349.9L1622.8 1351.3L1624.4 1352.8L1625.9 1354.3L1627.5 1355.7L1629.0 1357.2L1630.6 1358.6L1632.1 1360.0L1633.6 1361.3L1635.1 1362.6L1636.6 1364.0L1638.1 1365.3L1639.6 1366.6L1641.0 1368.0L1642.5 1369.3L1643.9 1370.7L1645.4 1372.1L1646.9 1373.5L1648.3 1374.9L1649.8 1376.4L1651.3 1378.0L1652.8 1379.5L1654.2 1381.1L1655.7 1382.8L1657.2 1384.4L1658.6 1386.0L1660.1 1387.6L1661.6 1389.2L1663.0 1390.9L1664.5 1392.4L1666.0 1394.0L1667.5 1395.5L1668.9 1397.0L1670.4 1398.5L1671.8 1400.1L1673.3 1401.6L1674.7 1403.1L1676.2 1404.5L1677.7 1406.0L1679.2 1407.5L1680.7 1408.9L1682.2 1410.3L1683.7 1411.7L1685.2 1413.1L1686.8 1414.4L1688.4 1415.7L1689.9 1417.0L1691.5 1418.3L1693.1 1419.6L1694.7 1420.8L1696.3 1422.1L1698.0 1423.3L1699.6 1424.6L1701.2 1425.8L1702.8 1427.0L1704.4 1428.2L1705.9 1429.4L1707.5 1430.6L1709.0 1431.8L1710.6 1432.9L1712.2 1434.1L1713.8 1435.2L1715.3 1436.4L1717.0 1437.5L1718.6 1438.5L1720.3 1439.6L1722.0 1440.6L1723.8 1441.6L1725.7 1442.7L1727.7 1443.7L1729.6 1444.7L1731.6 1445.6L1733.6 1446.6L1735.7 1447.5L1737.7 1448.3L1739.7 1449.2L1741.7 1450.0L1743.7 1450.8L1745.6 1451.5L1747.4 1452.1L1749.1 1452.8L1750.9 1453.3L1752.7 1453.9L1754.5 1454.5L1756.2 1455.0L1758.0 1455.5L1759.7 1455.9L1761.4 1456.3L1763.0 1456.7L1764.6 1457.1L1766.2 1457.4L1767.4 1457.6L1768.6 1457.9L1769.7 1458.1L1770.8 1458.2L1771.9 1458.4L1773.0 1458.6L1774.0 1458.7L1775.1 1458.8L1776.2 1458.8L1777.3 1458.9L1778.4 1458.9L1779.5 1458.9L1780.7 1458.9L1781.9 1458.8L1783.1 1458.7L1784.3 1458.6L1785.5 1458.5L1786.7 1458.3L1788.0 1458.1L1789.2 1457.9L1790.4 1457.6L1791.7 1457.3L1792.9 1456.9L1794.2 1456.5L1795.8 1455.9L1797.3 1455.2L1798.9 1454.5L1800.5 1453.7L1802.2 1452.8L1803.8 1451.9L1805.4 1450.9L1807.0 1449.9L1808.7 1448.8L1810.3 1447.8L1811.8 1446.7L1813.4 1445.6L1815.0 1444.4L1816.7 1443.2L1818.3 1442.0L1820.0 1440.7L1821.6 1439.3L1823.2 1438.0L1824.8 1436.6L1826.4 1435.2L1828.0 1433.8L1829.5 1432.3L1831.0 1430.9L1832.5 1429.4L1834.0 1427.9L1835.5 1426.3L1836.9 1424.6L1838.4 1422.9L1839.9 1421.2L1841.3 1419.4L1842.7 1417.7L1844.0 1416.0L1845.3 1414.4L1846.5 1412.9L1847.6 1411.5L1848.7 1410.2L1849.3 1409.5L1849.9 1408.8L1850.4 1408.1L1850.9 1407.5L1851.4 1406.9L1851.8 1406.3L1852.3 1405.8L1852.7 1405.2L1853.2 1404.6L1853.7 1404.1L1854.1 1403.5L1854.6 1402.9" class="ci"/>
<path d="M1396.2 1734.5L1396.9 1732.4L1397.7 1730.3L1398.5 1728.2L1399.2 1726.1L1400.0 1724.0L1400.7 1721.9L1401.5 1719.8L1402.2 1717.7L1403.0 1715.6L1403.7 1713.6L1404.4 1711.5L1405.1 1709.5L1405.7 1707.6L1406.4 1705.8L1407.0 1703.9L1407.6 1702.1L1408.2 1700.3L1408.8 1698.5L1409.4 1696.7L1410.0 1694.8L1410.6 1693.0L1411.2 1691.2L1411.8 1689.3L1412.4 1687.4L1413.0 1685.4L1413.6 1683.3L1414.2 1681.2L1414.8 1679.1L1415.4 1677.0L1416.0 1674.8L1416.6 1672.7L1417.2 1670.6L1417.8 1668.5L1418.5 1666.4L1419.1 1664.3L1419.8 1662.3L1420.5 1660.4L1421.2 1658.5L1421.9 1656.7L1422.6 1654.8L1423.4 1653.0L1424.1 1651.2L1424.9 1649.4L1425.6 1647.6L1426.4 1645.7L1427.1 1643.9L1427.9 1642.1L1428.6 1640.2L1429.3 1638.3L1430.1 1636.3L1430.8 1634.3L1431.6 1632.4L1432.3 1630.4L1433.0 1628.4L1433.8 1626.4L1434.5 1624.4L1435.3 1622.5L1436.0 1620.5L1436.8 1618.5L1437.5 1616.6L1438.2 1614.7L1438.9 1612.9L1439.7 1611.0L1440.4 1609.2L1441.1 1607.4L1441.8 1605.5L1442.5 1603.7L1443.3 1601.9L1444.0 1600.0L1444.8 1598.2L1445.5 1596.4L1446.3 1594.5L1447.1 1592.6L1448.0 1590.6L1448.8 1588.6L1449.7 1586.7L1450.6 1584.7L1451.5 1582.7L1452.4 1580.7L1453.3 1578.7L1454.2 1576.8L1455.0 1574.8L1455.9 1572.8L1456.7 1570.9L1457.5 1569.0L1458.2 1567.2L1458.9 1565.3L1459.6 1563.5L1460.3 1561.7L1461.0 1559.8L1461.7 1558.0L1462.4 1556.2L1463.2 1554.3L1463.9 1552.5L1464.7 1550.7L1465.5 1548.8L1466.4 1546.8L1467.3 1544.9L1468.3 1542.9L1469.3 1540.9L1470.3 1538.9L1471.3 1536.9L1472.3 1534.9L1473.3 1533.0L1474.3 1531.0L1475.3 1529.0L1476.3 1527.1L1477.3 1525.2L1478.2 1523.4L1479.0 1521.7L1479.9 1520.0L1480.7 1518.2L1481.5 1516.5L1482.4 1514.8L1483.2 1513.1L1484.0 1511.4L1484.9 1509.7L1485.8 1508.0L1486.7 1506.3L1487.6 1504.6L1488.6 1502.8L1489.7 1500.9L1490.7 1499.1L1491.8 1497.2L1493.0 1495.4L1494.1 1493.5L1495.2 1491.7L1496.4 1489.8L1497.5 1488.0L1498.6 1486.1L1499.8 1484.3L1500.9 1482.5L1502.0 1480.7L1503.0 1479.0L1504.1 1477.2L1505.1 1475.4L1506.2 1473.7L1507.2 1471.9L1508.3 1470.2L1509.4 1468.4L1510.5 1466.7L1511.6 1465.1L1512.8 1463.4L1514.1 1461.8L1515.4 1460.2L1516.8 1458.6L1518.2 1457.1L1519.6 1455.6L1521.1 1454.1L1522.6 1452.6L1524.1 1451.1L1525.7 1449.7L1527.2 1448.3L1528.8 1446.9L1530.3 1445.5L1531.8 1444.1L1533.2 1442.8L1534.7 1441.4L1536.1 1440.1L1537.5 1438.8L1538.9 1437.4L1540.3 1436.1L1541.7 1434.9L1543.2 1433.7L1544.7 1432.5L1546.3 1431.4L1547.8 1430.4L1549.5 1429.4L1551.3 1428.5L1553.1 1427.6L1555.0 1426.8L1556.9 1426.0L1558.9 1425.3L1560.9 1424.6L1562.9 1424.1L1564.9 1423.5L1567.0 1423.0L1569.0 1422.6L1571.1 1422.3L1573.1 1422.0L1575.2 1421.8L1577.2 1421.7L1579.3 1421.6L1581.4 1421.6L1583.5 1421.7L1585.7 1421.8L1587.8 1422.0L1589.9 1422.2L1592.0 1422.5L1594.1 1422.8L1596.2 1423.1L1598.2 1423.5L1600.2 1423.9L1602.2 1424.4L1604.3 1424.9L1606.3 1425.5L1608.3 1426.1L1610.3 1426.8L1612.2 1427.5L1614.2 1428.2L1616.1 1429.0L1618.0 1429.8L1619.9 1430.6L1621.7 1431.5L1623.4 1432.4L1625.1 1433.3L1626.7 1434.3L1628.3 1435.3L1629.9 1436.4L1631.4 1437.4L1633.0 1438.5L1634.5 1439.6L1636.1 1440.8L1637.7 1441.9L1639.3 1443.0L1640.9 1444.1L1642.7 1445.3L1644.5 1446.5L1646.3 1447.7L1648.2 1449.0L1650.0 1450.2L1651.9 1451.5L1653.8 1452.7L1655.6 1454.0L1657.5 1455.2L1659.3 1456.5L1661.2 1457.7L1663.0 1458.9L1664.7 1460.0L1666.5 1461.2L1668.2 1462.4L1669.9 1463.5L1671.6 1464.7L1673.3 1465.8L1675.0 1466.9L1676.7 1468.0L1678.4 1469.1L1680.2 1470.2L1681.9 1471.2L1683.7 1472.1L1685.5 1473.0L1687.3 1473.8L1689.1 1474.6L1690.9 1475.4L1692.7 1476.2L1694.6 1476.9L1696.4 1477.6L1698.3 1478.3L1700.2 1479.0L1702.0 1479.7L1703.9 1480.3L1705.8 1481.0L1707.7 1481.7L1709.7 1482.4L1711.6 1483.1L1713.5 1483.9L1715.5 1484.6L1717.5 1485.3L1719.4 1485.9L1721.4 1486.5L1723.4 1487.1L1725.4 1487.6L1727.4 1488.0L1729.4 1488.4L1731.4 1488.7L1733.5 1488.9L1735.6 1489.0L1737.7 1489.1L1739.8 1489.1L1741.9 1489.1L1744.0 1489.1L1746.1 1489.0L1748.2 1488.9L1750.3 1488.7L1752.3 1488.6L1754.4 1488.4L1756.4 1488.2L1758.4 1487.9L1760.3 1487.6L1762.3 1487.3L1764.2 1486.9L1766.2 1486.5L1768.1 1486.1L1770.1 1485.7L1772.1 1485.4L1774.0 1485.0L1776.0 1484.7L1778.0 1484.5L1780.1 1484.3L1782.1 1484.1L1784.2 1483.9L1786.3 1483.7L1788.4 1483.5L1790.6 1483.4L1792.7 1483.3L1794.8 1483.2L1796.9 1483.2L1799.0 1483.2L1801.0 1483.2L1803.1 1483.3L1805.1 1483.4L1807.1 1483.6L1809.0 1483.8L1811.0 1484.0L1812.9 1484.2L1814.9 1484.5L1816.8 1484.8L1818.8 1485.2L1820.7 1485.6L1822.7 1486.0L1824.6 1486.4L1826.6 1486.9L1828.7 1487.5L1830.8 1488.1L1832.9 1488.7L1834.9 1489.5L1837.0 1490.2L1839.1 1491.0L1841.2 1491.8L1843.3 1492.6L1845.4 1493.4L1847.5 1494.2L1849.6 1495.0L1851.7 1495.7" class="ci"/>
<path d="M110.5 1908.6 V2406.0 H604.0" class="ax"/>
<path d="M102.5 2363.8H110.5" class="ax"/>
<path d="M102.5 2282.6H110.5" class="ax"/>
<path d="M102.5 2201.5H110.5" class="ax"/>
<path d="M102.5 2120.3H110.5" class="ax"/>
<path d="M102.5 2039.2H110.5" class="ax"/>
<path d="M102.5 1958.0H110.5" class="ax"/>
<text class="tk" transform="translate(84.2 2363.8) rotate(-90) scale(0.950 1)">-6</text>
<text class="tk" transform="translate(84.2 2282.6) rotate(-90) scale(0.950 1)">-4</text>
<text class="tk" transform="translate(84.2 2201.5) rotate(-90) scale(0.950 1)">-2</text>
<text class="tk" transform="translate(84.2 2120.3) rotate(-90) scale(0.950 1)">0</text>
<text class="tk" transform="translate(84.2 2039.2) rotate(-90) scale(0.950 1)">2</text>
<text class="tk" transform="translate(84.2 1958.0) rotate(-90) scale(0.950 1)">4</text>
<path d="M117.6 2406.0V2414.0" class="ax"/>
<path d="M226.2 2406.0V2414.0" class="ax"/>
<path d="M334.8 2406.0V2414.0" class="ax"/>
<path d="M443.4 2406.0V2414.0" class="ax"/>
<path d="M552.0 2406.0V2414.0" class="ax"/>
<text class="tk" transform="translate(117.6 2442.8) scale(0.950 1)">33.5</text>
<text class="tk" transform="translate(226.2 2442.8) scale(0.950 1)">34.0</text>
<text class="tk" transform="translate(334.8 2442.8) scale(0.950 1)">34.5</text>
<text class="tk" transform="translate(443.4 2442.8) scale(0.950 1)">35.0</text>
<text class="tk" transform="translate(552.0 2442.8) scale(0.950 1)">35.5</text>
<text class="lb" transform="translate(357.2 2489.6) scale(1.010 1)">SSS</text>
<text class="lb" transform="translate(36.9 2157.3) rotate(-90) scale(1.010 1)">s(SSS,1)</text>
<rect x="125.3" y="2388.7" width="5.9" height="20.3" rx="2.8" class="rg"/>
<rect x="221.1" y="2388.7" width="5.9" height="20.3" rx="2.8" class="rg"/>
<rect x="260.4" y="2388.7" width="12.3" height="20.3" rx="2.8" class="rg"/>
<rect x="277.8" y="2388.7" width="5.6" height="20.3" rx="2.8" class="rg"/>
<rect x="312.8" y="2388.7" width="12.4" height="20.3" rx="2.8" class="rg"/>
<rect x="332.0" y="2388.7" width="5.6" height="20.3" rx="2.8" class="rg"/>
<rect x="356.2" y="2388.7" width="16.8" height="20.3" rx="2.8" class="rg"/>
<rect x="375.9" y="2388.7" width="16.5" height="20.3" rx="2.8" class="rg"/>
<rect x="401.7" y="2388.7" width="5.6" height="20.3" rx="2.8" class="rg"/>
<rect x="408.7" y="2388.7" width="11.7" height="20.3" rx="2.8" class="rg"/>
<rect x="423.1" y="2388.7" width="5.9" height="20.3" rx="2.8" class="rg"/>
<rect x="429.9" y="2388.7" width="5.9" height="20.3" rx="2.8" class="rg"/>
<rect x="436.7" y="2388.7" width="5.9" height="20.3" rx="2.8" class="rg"/>
<rect x="443.1" y="2388.7" width="14.2" height="20.3" rx="2.8" class="rg"/>
<rect x="458.8" y="2388.7" width="16.2" height="20.3" rx="2.8" class="rg"/>
<rect x="478.5" y="2388.7" width="13.9" height="20.3" rx="2.8" class="rg"/>
<rect x="495.3" y="2388.7" width="18.6" height="20.3" rx="2.8" class="rg"/>
<rect x="519.2" y="2388.7" width="51.3" height="20.3" rx="2.8" class="rg"/>
<rect x="575.7" y="2388.7" width="5.6" height="20.3" rx="2.8" class="rg"/>
<rect x="582.2" y="2388.7" width="5.6" height="20.3" rx="2.8" class="rg"/>
<path d="M128.3 2222.2L585.2 2078.6" class="fit"/>
<path d="M128.3 2159.1L453.1 2120.3L585.2 2053.4" class="ci"/>
<path d="M128.3 2285.0L453.1 2120.3L585.2 2104.5" class="ci"/>
<path d="M744.7 1908.6 V2406.0 H1237.3" class="ax"/>
<path d="M736.7 2363.8H744.7" class="ax"/>
<path d="M736.7 2282.6H744.7" class="ax"/>
<path d="M736.7 2201.5H744.7" class="ax"/>
<path d="M736.7 2120.3H744.7" class="ax"/>
<path d="M736.7 2039.2H744.7" class="ax"/>
<path d="M736.7 1958.0H744.7" class="ax"/>
<text class="tk" transform="translate(718.4 2363.8) rotate(-90) scale(0.950 1)">-6</text>
<text class="tk" transform="translate(718.4 2282.6) rotate(-90) scale(0.950 1)">-4</text>
<text class="tk" transform="translate(718.4 2201.5) rotate(-90) scale(0.950 1)">-2</text>
<text class="tk" transform="translate(718.4 2120.3) rotate(-90) scale(0.950 1)">0</text>
<text class="tk" transform="translate(718.4 2039.2) rotate(-90) scale(0.950 1)">2</text>
<text class="tk" transform="translate(718.4 1958.0) rotate(-90) scale(0.950 1)">4</text>
<path d="M838.7 2406.0V2414.0" class="ax"/>
<path d="M947.5 2406.0V2414.0" class="ax"/>
<path d="M1056.3 2406.0V2414.0" class="ax"/>
<path d="M1165.1 2406.0V2414.0" class="ax"/>
<text class="tk" transform="translate(838.7 2442.8) scale(0.950 1)">180</text>
<text class="tk" transform="translate(947.5 2442.8) scale(0.950 1)">200</text>
<text class="tk" transform="translate(1056.3 2442.8) scale(0.950 1)">220</text>
<text class="tk" transform="translate(1165.1 2442.8) scale(0.950 1)">240</text>
<text class="lb" transform="translate(991.0 2489.6) scale(1.010 1)">DO</text>
<text class="lb" transform="translate(671.1 2157.3) rotate(-90) scale(1.010 1)">s(DO,1)</text>
<rect x="759.7" y="2388.7" width="13.3" height="20.3" rx="2.8" class="rg"/>
<rect x="776.0" y="2388.7" width="5.9" height="20.3" rx="2.8" class="rg"/>
<rect x="796.6" y="2388.7" width="28.0" height="20.3" rx="2.8" class="rg"/>
<rect x="833.4" y="2388.7" width="20.1" height="20.3" rx="2.8" class="rg"/>
<rect x="857.9" y="2388.7" width="5.9" height="20.3" rx="2.8" class="rg"/>
<rect x="865.9" y="2388.7" width="25.0" height="20.3" rx="2.8" class="rg"/>
<rect x="909.2" y="2388.7" width="22.1" height="20.3" rx="2.8" class="rg"/>
<rect x="935.2" y="2388.7" width="10.3" height="20.3" rx="2.8" class="rg"/>
<rect x="949.0" y="2388.7" width="7.1" height="20.3" rx="2.8" class="rg"/>
<rect x="958.7" y="2388.7" width="15.7" height="20.3" rx="2.8" class="rg"/>
<rect x="977.8" y="2388.7" width="5.6" height="20.3" rx="2.8" class="rg"/>
<rect x="989.1" y="2388.7" width="5.9" height="20.3" rx="2.8" class="rg"/>
<rect x="999.1" y="2388.7" width="20.7" height="20.3" rx="2.8" class="rg"/>
<rect x="1020.6" y="2388.7" width="16.3" height="20.3" rx="2.8" class="rg"/>
<rect x="1050.1" y="2388.7" width="11.8" height="20.3" rx="2.8" class="rg"/>
<rect x="1083.4" y="2388.7" width="16.9" height="20.3" rx="2.8" class="rg"/>
<rect x="1117.0" y="2388.7" width="6.8" height="20.3" rx="2.8" class="rg"/>
<rect x="1166.6" y="2388.7" width="5.9" height="20.3" rx="2.8" class="rg"/>
<rect x="1174.8" y="2388.7" width="11.8" height="20.3" rx="2.8" class="rg"/>
<rect x="1189.3" y="2388.7" width="6.2" height="20.3" rx="2.8" class="rg"/>
<rect x="1200.5" y="2388.7" width="22.1" height="20.3" rx="2.8" class="rg"/>
<path d="M762.7 2084.5L1220.2 2161.8" class="fit"/>
<path d="M762.7 2058.0L976.4 2120.4L1220.2 2131.7" class="ci"/>
<path d="M762.7 2110.5L976.4 2120.4L1220.2 2191.6" class="ci"/>
<path d="M1379.6 1908.6 V2406.0 H1872.3" class="ax"/>
<path d="M1371.6 2363.8H1379.6" class="ax"/>
<path d="M1371.6 2282.6H1379.6" class="ax"/>
<path d="M1371.6 2201.5H1379.6" class="ax"/>
<path d="M1371.6 2120.3H1379.6" class="ax"/>
<path d="M1371.6 2039.2H1379.6" class="ax"/>
<path d="M1371.6 1958.0H1379.6" class="ax"/>
<text class="tk" transform="translate(1353.3 2363.8) rotate(-90) scale(0.950 1)">-6</text>
<text class="tk" transform="translate(1353.3 2282.6) rotate(-90) scale(0.950 1)">-4</text>
<text class="tk" transform="translate(1353.3 2201.5) rotate(-90) scale(0.950 1)">-2</text>
<text class="tk" transform="translate(1353.3 2120.3) rotate(-90) scale(0.950 1)">0</text>
<text class="tk" transform="translate(1353.3 2039.2) rotate(-90) scale(0.950 1)">2</text>
<text class="tk" transform="translate(1353.3 1958.0) rotate(-90) scale(0.950 1)">4</text>
<path d="M1394.7 2406.0V2414.0" class="ax"/>
<path d="M1516.3 2406.0V2414.0" class="ax"/>
<path d="M1637.8 2406.0V2414.0" class="ax"/>
<path d="M1759.4 2406.0V2414.0" class="ax"/>
<text class="tk" transform="translate(1394.7 2442.8) scale(0.950 1)">0.0</text>
<text class="tk" transform="translate(1516.3 2442.8) scale(0.950 1)">0.5</text>
<text class="tk" transform="translate(1637.8 2442.8) scale(0.950 1)">1.0</text>
<text class="tk" transform="translate(1759.4 2442.8) scale(0.950 1)">1.5</text>
<text class="lb" transform="translate(1625.9 2489.6) scale(1.010 1)">Nitrate</text>
<text class="lb" transform="translate(1306.0 2157.3) rotate(-90) scale(1.010 1)">s(Nitrate,1)</text>
<rect x="1394.7" y="2388.7" width="85.5" height="20.3" rx="2.8" class="rg"/>
<rect x="1484.5" y="2388.7" width="5.6" height="20.3" rx="2.8" class="rg"/>
<rect x="1501.4" y="2388.7" width="5.6" height="20.3" rx="2.8" class="rg"/>
<rect x="1545.1" y="2388.7" width="5.9" height="20.3" rx="2.8" class="rg"/>
<rect x="1559.6" y="2388.7" width="5.6" height="20.3" rx="2.8" class="rg"/>
<rect x="1601.0" y="2388.7" width="5.6" height="20.3" rx="2.8" class="rg"/>
<rect x="1642.3" y="2388.7" width="5.6" height="20.3" rx="2.8" class="rg"/>
<rect x="1654.2" y="2388.7" width="5.9" height="20.3" rx="2.8" class="rg"/>
<rect x="1671.3" y="2388.7" width="5.6" height="20.3" rx="2.8" class="rg"/>
<rect x="1700.5" y="2388.7" width="5.9" height="20.3" rx="2.8" class="rg"/>
<rect x="1710.2" y="2388.7" width="5.8" height="20.3" rx="2.8" class="rg"/>
<rect x="1717.5" y="2388.7" width="5.9" height="20.3" rx="2.8" class="rg"/>
<rect x="1749.4" y="2388.7" width="8.0" height="20.3" rx="2.8" class="rg"/>
<rect x="1851.1" y="2388.7" width="5.9" height="20.3" rx="2.8" class="rg"/>
<path d="M1397.1 2144.3L1855.2 2007.8" class="fit"/>
<path d="M1397.1 2130.1L1478.7 2120.3L1855.2 1939.0" class="ci"/>
<path d="M1397.1 2159.6L1478.7 2120.3L1855.2 2075.0" class="ci"/>
</svg>
</body></html>
